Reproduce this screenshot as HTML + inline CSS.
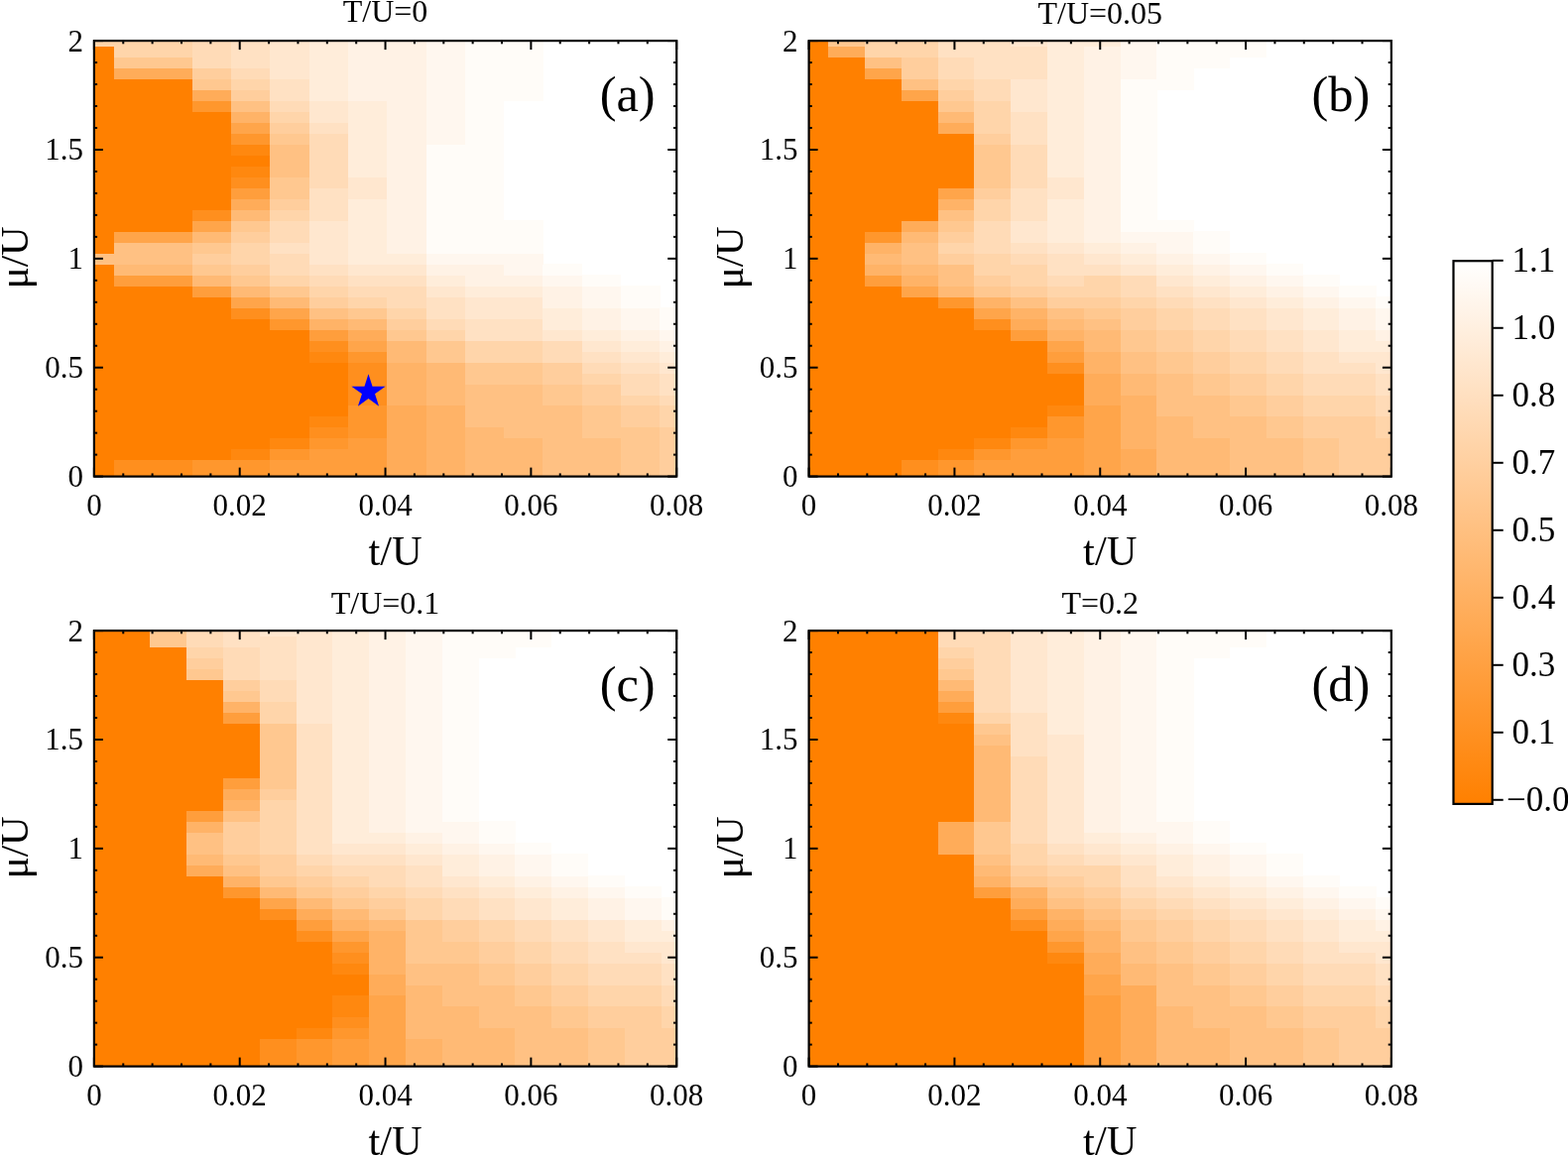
<!DOCTYPE html>
<html><head><meta charset="utf-8"><style>
html,body{margin:0;padding:0;background:#fff;width:1581px;height:1166px;overflow:hidden}
svg text{font-family:'Liberation Serif','Times New Roman',serif;fill:#000}
</style></head><body>
<svg width="1581" height="1166" viewBox="0 0 1581 1166" style="position:absolute;left:0;top:0"><rect width="1581" height="1166" fill="#fff"/><g shape-rendering="crispEdges"><rect x="94.9" y="475.11" width="20.5" height="5.79" fill="#ff8000"/><rect x="115.1" y="475.11" width="78.9" height="5.79" fill="#ff8f1e"/><rect x="193.7" y="475.11" width="78.9" height="5.79" fill="#ff972d"/><rect x="272.3" y="475.11" width="118.2" height="5.79" fill="#ff9e3c"/><rect x="390.2" y="475.11" width="39.6" height="5.79" fill="#ffac59"/><rect x="429.5" y="475.11" width="39.6" height="5.79" fill="#ffb367"/><rect x="468.8" y="475.11" width="78.9" height="5.79" fill="#ffba75"/><rect x="547.4" y="475.11" width="78.9" height="5.79" fill="#ffc183"/><rect x="626.0" y="475.11" width="39.6" height="5.79" fill="#ffc890"/><rect x="665.3" y="475.11" width="17.2" height="5.79" fill="#ffce9d"/><rect x="94.9" y="464.12" width="20.5" height="11.29" fill="#ff8000"/><rect x="115.1" y="464.12" width="78.9" height="11.29" fill="#ff8f1e"/><rect x="193.7" y="464.12" width="78.9" height="11.29" fill="#ff972d"/><rect x="272.3" y="464.12" width="118.2" height="11.29" fill="#ff9e3c"/><rect x="390.2" y="464.12" width="39.6" height="11.29" fill="#ffac59"/><rect x="429.5" y="464.12" width="39.6" height="11.29" fill="#ffb367"/><rect x="468.8" y="464.12" width="78.9" height="11.29" fill="#ffba75"/><rect x="547.4" y="464.12" width="78.9" height="11.29" fill="#ffc183"/><rect x="626.0" y="464.12" width="39.6" height="11.29" fill="#ffc890"/><rect x="665.3" y="464.12" width="17.2" height="11.29" fill="#ffce9d"/><rect x="94.9" y="453.13" width="138.4" height="11.29" fill="#ff8000"/><rect x="233.0" y="453.13" width="39.6" height="11.29" fill="#ff880f"/><rect x="272.3" y="453.13" width="39.6" height="11.29" fill="#ff972d"/><rect x="311.6" y="453.13" width="78.9" height="11.29" fill="#ff9e3c"/><rect x="390.2" y="453.13" width="39.6" height="11.29" fill="#ffac59"/><rect x="429.5" y="453.13" width="39.6" height="11.29" fill="#ffb367"/><rect x="468.8" y="453.13" width="78.9" height="11.29" fill="#ffba75"/><rect x="547.4" y="453.13" width="78.9" height="11.29" fill="#ffc183"/><rect x="626.0" y="453.13" width="39.6" height="11.29" fill="#ffc890"/><rect x="665.3" y="453.13" width="17.2" height="11.29" fill="#ffce9d"/><rect x="94.9" y="442.14" width="177.7" height="11.29" fill="#ff8000"/><rect x="272.3" y="442.14" width="39.6" height="11.29" fill="#ff880f"/><rect x="311.6" y="442.14" width="39.6" height="11.29" fill="#ff972d"/><rect x="350.9" y="442.14" width="39.6" height="11.29" fill="#ff9e3c"/><rect x="390.2" y="442.14" width="39.6" height="11.29" fill="#ffac59"/><rect x="429.5" y="442.14" width="39.6" height="11.29" fill="#ffb367"/><rect x="468.8" y="442.14" width="78.9" height="11.29" fill="#ffba75"/><rect x="547.4" y="442.14" width="78.9" height="11.29" fill="#ffc183"/><rect x="626.0" y="442.14" width="39.6" height="11.29" fill="#ffc890"/><rect x="665.3" y="442.14" width="17.2" height="11.29" fill="#ffce9d"/><rect x="94.9" y="431.16" width="217.0" height="11.29" fill="#ff8000"/><rect x="311.6" y="431.16" width="39.6" height="11.29" fill="#ff8f1e"/><rect x="350.9" y="431.16" width="39.6" height="11.29" fill="#ff972d"/><rect x="390.2" y="431.16" width="39.6" height="11.29" fill="#ffac59"/><rect x="429.5" y="431.16" width="39.6" height="11.29" fill="#ffb367"/><rect x="468.8" y="431.16" width="39.6" height="11.29" fill="#ffba75"/><rect x="508.1" y="431.16" width="78.9" height="11.29" fill="#ffc183"/><rect x="586.7" y="431.16" width="78.9" height="11.29" fill="#ffc890"/><rect x="665.3" y="431.16" width="17.2" height="11.29" fill="#ffce9d"/><rect x="94.9" y="420.17" width="217.0" height="11.29" fill="#ff8000"/><rect x="311.6" y="420.17" width="39.6" height="11.29" fill="#ff880f"/><rect x="350.9" y="420.17" width="39.6" height="11.29" fill="#ff972d"/><rect x="390.2" y="420.17" width="39.6" height="11.29" fill="#ffac59"/><rect x="429.5" y="420.17" width="39.6" height="11.29" fill="#ffb367"/><rect x="468.8" y="420.17" width="118.2" height="11.29" fill="#ffc183"/><rect x="586.7" y="420.17" width="39.6" height="11.29" fill="#ffc890"/><rect x="626.0" y="420.17" width="39.6" height="11.29" fill="#ffce9d"/><rect x="665.3" y="420.17" width="17.2" height="11.29" fill="#ffd5aa"/><rect x="94.9" y="409.18" width="256.3" height="11.29" fill="#ff8000"/><rect x="350.9" y="409.18" width="39.6" height="11.29" fill="#ff972d"/><rect x="390.2" y="409.18" width="39.6" height="11.29" fill="#ffac59"/><rect x="429.5" y="409.18" width="39.6" height="11.29" fill="#ffb367"/><rect x="468.8" y="409.18" width="118.2" height="11.29" fill="#ffc183"/><rect x="586.7" y="409.18" width="39.6" height="11.29" fill="#ffc890"/><rect x="626.0" y="409.18" width="39.6" height="11.29" fill="#ffce9d"/><rect x="665.3" y="409.18" width="17.2" height="11.29" fill="#ffd5aa"/><rect x="94.9" y="398.19" width="256.3" height="11.29" fill="#ff8000"/><rect x="350.9" y="398.19" width="39.6" height="11.29" fill="#ff8f1e"/><rect x="390.2" y="398.19" width="39.6" height="11.29" fill="#ffb367"/><rect x="429.5" y="398.19" width="39.6" height="11.29" fill="#ffba75"/><rect x="468.8" y="398.19" width="78.9" height="11.29" fill="#ffc183"/><rect x="547.4" y="398.19" width="39.6" height="11.29" fill="#ffc890"/><rect x="586.7" y="398.19" width="39.6" height="11.29" fill="#ffce9d"/><rect x="626.0" y="398.19" width="39.6" height="11.29" fill="#ffd5aa"/><rect x="665.3" y="398.19" width="17.2" height="11.29" fill="#ffdbb7"/><rect x="94.9" y="387.21" width="256.3" height="11.29" fill="#ff8000"/><rect x="350.9" y="387.21" width="39.6" height="11.29" fill="#ff8f1e"/><rect x="390.2" y="387.21" width="39.6" height="11.29" fill="#ffb367"/><rect x="429.5" y="387.21" width="39.6" height="11.29" fill="#ffba75"/><rect x="468.8" y="387.21" width="78.9" height="11.29" fill="#ffc183"/><rect x="547.4" y="387.21" width="39.6" height="11.29" fill="#ffc890"/><rect x="586.7" y="387.21" width="39.6" height="11.29" fill="#ffce9d"/><rect x="626.0" y="387.21" width="39.6" height="11.29" fill="#ffdbb7"/><rect x="665.3" y="387.21" width="17.2" height="11.29" fill="#ffe1c3"/><rect x="94.9" y="376.22" width="256.3" height="11.29" fill="#ff8000"/><rect x="350.9" y="376.22" width="39.6" height="11.29" fill="#ff8f1e"/><rect x="390.2" y="376.22" width="39.6" height="11.29" fill="#ffb367"/><rect x="429.5" y="376.22" width="39.6" height="11.29" fill="#ffba75"/><rect x="468.8" y="376.22" width="78.9" height="11.29" fill="#ffc890"/><rect x="547.4" y="376.22" width="39.6" height="11.29" fill="#ffce9d"/><rect x="586.7" y="376.22" width="39.6" height="11.29" fill="#ffd5aa"/><rect x="626.0" y="376.22" width="39.6" height="11.29" fill="#ffdbb7"/><rect x="665.3" y="376.22" width="17.2" height="11.29" fill="#ffe1c3"/><rect x="94.9" y="365.23" width="256.3" height="11.29" fill="#ff8000"/><rect x="350.9" y="365.23" width="39.6" height="11.29" fill="#ff8f1e"/><rect x="390.2" y="365.23" width="39.6" height="11.29" fill="#ffb367"/><rect x="429.5" y="365.23" width="39.6" height="11.29" fill="#ffba75"/><rect x="468.8" y="365.23" width="78.9" height="11.29" fill="#ffc890"/><rect x="547.4" y="365.23" width="39.6" height="11.29" fill="#ffce9d"/><rect x="586.7" y="365.23" width="39.6" height="11.29" fill="#ffdbb7"/><rect x="626.0" y="365.23" width="39.6" height="11.29" fill="#ffe1c3"/><rect x="665.3" y="365.23" width="17.2" height="11.29" fill="#ffe7cf"/><rect x="94.9" y="354.24" width="217.0" height="11.29" fill="#ff8000"/><rect x="311.6" y="354.24" width="39.6" height="11.29" fill="#ff880f"/><rect x="350.9" y="354.24" width="39.6" height="11.29" fill="#ff972d"/><rect x="390.2" y="354.24" width="39.6" height="11.29" fill="#ffba75"/><rect x="429.5" y="354.24" width="39.6" height="11.29" fill="#ffc890"/><rect x="468.8" y="354.24" width="78.9" height="11.29" fill="#ffd5aa"/><rect x="547.4" y="354.24" width="39.6" height="11.29" fill="#ffdbb7"/><rect x="586.7" y="354.24" width="39.6" height="11.29" fill="#ffe1c3"/><rect x="626.0" y="354.24" width="39.6" height="11.29" fill="#ffe7cf"/><rect x="665.3" y="354.24" width="17.2" height="11.29" fill="#ffedda"/><rect x="94.9" y="343.26" width="217.0" height="11.29" fill="#ff8000"/><rect x="311.6" y="343.26" width="39.6" height="11.29" fill="#ff8f1e"/><rect x="350.9" y="343.26" width="39.6" height="11.29" fill="#ffa54a"/><rect x="390.2" y="343.26" width="39.6" height="11.29" fill="#ffba75"/><rect x="429.5" y="343.26" width="39.6" height="11.29" fill="#ffc890"/><rect x="468.8" y="343.26" width="78.9" height="11.29" fill="#ffd5aa"/><rect x="547.4" y="343.26" width="39.6" height="11.29" fill="#ffdbb7"/><rect x="586.7" y="343.26" width="39.6" height="11.29" fill="#ffe7cf"/><rect x="626.0" y="343.26" width="39.6" height="11.29" fill="#ffedda"/><rect x="665.3" y="343.26" width="17.2" height="11.29" fill="#fff2e5"/><rect x="94.9" y="332.27" width="217.0" height="11.29" fill="#ff8000"/><rect x="311.6" y="332.27" width="39.6" height="11.29" fill="#ff9e3c"/><rect x="350.9" y="332.27" width="39.6" height="11.29" fill="#ffac59"/><rect x="390.2" y="332.27" width="39.6" height="11.29" fill="#ffc890"/><rect x="429.5" y="332.27" width="39.6" height="11.29" fill="#ffd5aa"/><rect x="468.8" y="332.27" width="78.9" height="11.29" fill="#ffe1c3"/><rect x="547.4" y="332.27" width="39.6" height="11.29" fill="#ffe7cf"/><rect x="586.7" y="332.27" width="39.6" height="11.29" fill="#ffedda"/><rect x="626.0" y="332.27" width="39.6" height="11.29" fill="#fff2e5"/><rect x="665.3" y="332.27" width="17.2" height="11.29" fill="#fff7ef"/><rect x="94.9" y="321.28" width="177.7" height="11.29" fill="#ff8000"/><rect x="272.3" y="321.28" width="39.6" height="11.29" fill="#ff972d"/><rect x="311.6" y="321.28" width="39.6" height="11.29" fill="#ffb367"/><rect x="350.9" y="321.28" width="39.6" height="11.29" fill="#ffba75"/><rect x="390.2" y="321.28" width="39.6" height="11.29" fill="#ffce9d"/><rect x="429.5" y="321.28" width="39.6" height="11.29" fill="#ffdbb7"/><rect x="468.8" y="321.28" width="78.9" height="11.29" fill="#ffe1c3"/><rect x="547.4" y="321.28" width="39.6" height="11.29" fill="#ffedda"/><rect x="586.7" y="321.28" width="39.6" height="11.29" fill="#fff2e5"/><rect x="626.0" y="321.28" width="39.6" height="11.29" fill="#fff7ef"/><rect x="665.3" y="321.28" width="17.2" height="11.29" fill="#fffcf8"/><rect x="94.9" y="310.29" width="138.4" height="11.29" fill="#ff8000"/><rect x="233.0" y="310.29" width="39.6" height="11.29" fill="#ff8f1e"/><rect x="272.3" y="310.29" width="39.6" height="11.29" fill="#ffa54a"/><rect x="311.6" y="310.29" width="39.6" height="11.29" fill="#ffc183"/><rect x="350.9" y="310.29" width="39.6" height="11.29" fill="#ffc890"/><rect x="390.2" y="310.29" width="39.6" height="11.29" fill="#ffd5aa"/><rect x="429.5" y="310.29" width="39.6" height="11.29" fill="#ffe1c3"/><rect x="468.8" y="310.29" width="78.9" height="11.29" fill="#ffe7cf"/><rect x="547.4" y="310.29" width="39.6" height="11.29" fill="#ffedda"/><rect x="586.7" y="310.29" width="39.6" height="11.29" fill="#fff2e5"/><rect x="626.0" y="310.29" width="39.6" height="11.29" fill="#fff7ef"/><rect x="665.3" y="310.29" width="17.2" height="11.29" fill="#fffcf8"/><rect x="94.9" y="299.31" width="138.4" height="11.29" fill="#ff8000"/><rect x="233.0" y="299.31" width="39.6" height="11.29" fill="#ffa54a"/><rect x="272.3" y="299.31" width="39.6" height="11.29" fill="#ffba75"/><rect x="311.6" y="299.31" width="39.6" height="11.29" fill="#ffce9d"/><rect x="350.9" y="299.31" width="39.6" height="11.29" fill="#ffd5aa"/><rect x="390.2" y="299.31" width="39.6" height="11.29" fill="#ffdbb7"/><rect x="429.5" y="299.31" width="39.6" height="11.29" fill="#ffe1c3"/><rect x="468.8" y="299.31" width="78.9" height="11.29" fill="#ffe7cf"/><rect x="547.4" y="299.31" width="39.6" height="11.29" fill="#fff2e5"/><rect x="586.7" y="299.31" width="39.6" height="11.29" fill="#fff7ef"/><rect x="626.0" y="299.31" width="39.6" height="11.29" fill="#fffcf8"/><rect x="94.9" y="288.32" width="99.1" height="11.29" fill="#ff8000"/><rect x="193.7" y="288.32" width="39.6" height="11.29" fill="#ff9e3c"/><rect x="233.0" y="288.32" width="39.6" height="11.29" fill="#ffba75"/><rect x="272.3" y="288.32" width="39.6" height="11.29" fill="#ffc890"/><rect x="311.6" y="288.32" width="39.6" height="11.29" fill="#ffd5aa"/><rect x="350.9" y="288.32" width="78.9" height="11.29" fill="#ffdbb7"/><rect x="429.5" y="288.32" width="39.6" height="11.29" fill="#ffe7cf"/><rect x="468.8" y="288.32" width="78.9" height="11.29" fill="#ffedda"/><rect x="547.4" y="288.32" width="39.6" height="11.29" fill="#fff2e5"/><rect x="586.7" y="288.32" width="39.6" height="11.29" fill="#fff7ef"/><rect x="626.0" y="288.32" width="39.6" height="11.29" fill="#fffcf8"/><rect x="94.9" y="277.33" width="20.5" height="11.29" fill="#ff8000"/><rect x="115.1" y="277.33" width="78.9" height="11.29" fill="#ff9e3c"/><rect x="193.7" y="277.33" width="39.6" height="11.29" fill="#ffba75"/><rect x="233.0" y="277.33" width="39.6" height="11.29" fill="#ffc890"/><rect x="272.3" y="277.33" width="39.6" height="11.29" fill="#ffd5aa"/><rect x="311.6" y="277.33" width="39.6" height="11.29" fill="#ffdbb7"/><rect x="350.9" y="277.33" width="78.9" height="11.29" fill="#ffe1c3"/><rect x="429.5" y="277.33" width="39.6" height="11.29" fill="#ffedda"/><rect x="468.8" y="277.33" width="78.9" height="11.29" fill="#fff2e5"/><rect x="547.4" y="277.33" width="39.6" height="11.29" fill="#fff7ef"/><rect x="586.7" y="277.33" width="39.6" height="11.29" fill="#fffcf8"/><rect x="94.9" y="266.34" width="20.5" height="11.29" fill="#ff8000"/><rect x="115.1" y="266.34" width="78.9" height="11.29" fill="#ffba75"/><rect x="193.7" y="266.34" width="39.6" height="11.29" fill="#ffc890"/><rect x="233.0" y="266.34" width="39.6" height="11.29" fill="#ffce9d"/><rect x="272.3" y="266.34" width="39.6" height="11.29" fill="#ffdbb7"/><rect x="311.6" y="266.34" width="39.6" height="11.29" fill="#ffe1c3"/><rect x="350.9" y="266.34" width="78.9" height="11.29" fill="#ffe7cf"/><rect x="429.5" y="266.34" width="78.9" height="11.29" fill="#fff2e5"/><rect x="508.1" y="266.34" width="39.6" height="11.29" fill="#fff7ef"/><rect x="547.4" y="266.34" width="39.6" height="11.29" fill="#fffcf8"/><rect x="94.9" y="255.36" width="99.1" height="11.29" fill="#ffc183"/><rect x="193.7" y="255.36" width="39.6" height="11.29" fill="#ffce9d"/><rect x="233.0" y="255.36" width="39.6" height="11.29" fill="#ffd5aa"/><rect x="272.3" y="255.36" width="39.6" height="11.29" fill="#ffdbb7"/><rect x="311.6" y="255.36" width="39.6" height="11.29" fill="#ffe7cf"/><rect x="350.9" y="255.36" width="78.9" height="11.29" fill="#ffedda"/><rect x="429.5" y="255.36" width="118.2" height="11.29" fill="#fff7ef"/><rect x="94.9" y="244.37" width="20.5" height="11.29" fill="#ff8000"/><rect x="115.1" y="244.37" width="78.9" height="11.29" fill="#ffc183"/><rect x="193.7" y="244.37" width="39.6" height="11.29" fill="#ffc890"/><rect x="233.0" y="244.37" width="39.6" height="11.29" fill="#ffd5aa"/><rect x="272.3" y="244.37" width="39.6" height="11.29" fill="#ffe1c3"/><rect x="311.6" y="244.37" width="39.6" height="11.29" fill="#ffe7cf"/><rect x="350.9" y="244.37" width="39.6" height="11.29" fill="#ffedda"/><rect x="390.2" y="244.37" width="39.6" height="11.29" fill="#fff2e5"/><rect x="429.5" y="244.37" width="118.2" height="11.29" fill="#fffcf8"/><rect x="94.9" y="233.38" width="20.5" height="11.29" fill="#ff8000"/><rect x="115.1" y="233.38" width="78.9" height="11.29" fill="#ffa54a"/><rect x="193.7" y="233.38" width="39.6" height="11.29" fill="#ffba75"/><rect x="233.0" y="233.38" width="39.6" height="11.29" fill="#ffce9d"/><rect x="272.3" y="233.38" width="39.6" height="11.29" fill="#ffdbb7"/><rect x="311.6" y="233.38" width="39.6" height="11.29" fill="#ffe7cf"/><rect x="350.9" y="233.38" width="39.6" height="11.29" fill="#ffedda"/><rect x="390.2" y="233.38" width="39.6" height="11.29" fill="#fff2e5"/><rect x="429.5" y="233.38" width="118.2" height="11.29" fill="#fffcf8"/><rect x="94.9" y="222.39" width="99.1" height="11.29" fill="#ff8000"/><rect x="193.7" y="222.39" width="39.6" height="11.29" fill="#ffa54a"/><rect x="233.0" y="222.39" width="39.6" height="11.29" fill="#ffc890"/><rect x="272.3" y="222.39" width="39.6" height="11.29" fill="#ffdbb7"/><rect x="311.6" y="222.39" width="39.6" height="11.29" fill="#ffe7cf"/><rect x="350.9" y="222.39" width="39.6" height="11.29" fill="#ffedda"/><rect x="390.2" y="222.39" width="39.6" height="11.29" fill="#fff2e5"/><rect x="429.5" y="222.39" width="118.2" height="11.29" fill="#fffcf8"/><rect x="94.9" y="211.41" width="99.1" height="11.29" fill="#ff8000"/><rect x="193.7" y="211.41" width="39.6" height="11.29" fill="#ff8f1e"/><rect x="233.0" y="211.41" width="39.6" height="11.29" fill="#ffba75"/><rect x="272.3" y="211.41" width="39.6" height="11.29" fill="#ffd5aa"/><rect x="311.6" y="211.41" width="39.6" height="11.29" fill="#ffe1c3"/><rect x="350.9" y="211.41" width="39.6" height="11.29" fill="#ffedda"/><rect x="390.2" y="211.41" width="39.6" height="11.29" fill="#fff2e5"/><rect x="429.5" y="211.41" width="78.9" height="11.29" fill="#fffcf8"/><rect x="94.9" y="200.42" width="138.4" height="11.29" fill="#ff8000"/><rect x="233.0" y="200.42" width="39.6" height="11.29" fill="#ffac59"/><rect x="272.3" y="200.42" width="39.6" height="11.29" fill="#ffce9d"/><rect x="311.6" y="200.42" width="39.6" height="11.29" fill="#ffe1c3"/><rect x="350.9" y="200.42" width="39.6" height="11.29" fill="#ffedda"/><rect x="390.2" y="200.42" width="39.6" height="11.29" fill="#fff2e5"/><rect x="429.5" y="200.42" width="78.9" height="11.29" fill="#fffcf8"/><rect x="94.9" y="189.43" width="138.4" height="11.29" fill="#ff8000"/><rect x="233.0" y="189.43" width="39.6" height="11.29" fill="#ff9e3c"/><rect x="272.3" y="189.43" width="39.6" height="11.29" fill="#ffc890"/><rect x="311.6" y="189.43" width="39.6" height="11.29" fill="#ffe1c3"/><rect x="350.9" y="189.43" width="39.6" height="11.29" fill="#ffe7cf"/><rect x="390.2" y="189.43" width="39.6" height="11.29" fill="#fff2e5"/><rect x="429.5" y="189.43" width="78.9" height="11.29" fill="#fffcf8"/><rect x="94.9" y="178.44" width="138.4" height="11.29" fill="#ff8000"/><rect x="233.0" y="178.44" width="39.6" height="11.29" fill="#ff8f1e"/><rect x="272.3" y="178.44" width="39.6" height="11.29" fill="#ffc890"/><rect x="311.6" y="178.44" width="39.6" height="11.29" fill="#ffdbb7"/><rect x="350.9" y="178.44" width="39.6" height="11.29" fill="#ffe7cf"/><rect x="390.2" y="178.44" width="39.6" height="11.29" fill="#fff2e5"/><rect x="429.5" y="178.44" width="78.9" height="11.29" fill="#fffcf8"/><rect x="94.9" y="167.46" width="138.4" height="11.29" fill="#ff8000"/><rect x="233.0" y="167.46" width="39.6" height="11.29" fill="#ff880f"/><rect x="272.3" y="167.46" width="39.6" height="11.29" fill="#ffc183"/><rect x="311.6" y="167.46" width="39.6" height="11.29" fill="#ffdbb7"/><rect x="350.9" y="167.46" width="39.6" height="11.29" fill="#ffedda"/><rect x="390.2" y="167.46" width="39.6" height="11.29" fill="#fff2e5"/><rect x="429.5" y="167.46" width="78.9" height="11.29" fill="#fffcf8"/><rect x="94.9" y="156.47" width="177.7" height="11.29" fill="#ff8000"/><rect x="272.3" y="156.47" width="39.6" height="11.29" fill="#ffc183"/><rect x="311.6" y="156.47" width="39.6" height="11.29" fill="#ffdbb7"/><rect x="350.9" y="156.47" width="39.6" height="11.29" fill="#ffedda"/><rect x="390.2" y="156.47" width="39.6" height="11.29" fill="#fff2e5"/><rect x="429.5" y="156.47" width="78.9" height="11.29" fill="#fffcf8"/><rect x="94.9" y="145.48" width="138.4" height="11.29" fill="#ff8000"/><rect x="233.0" y="145.48" width="39.6" height="11.29" fill="#ff880f"/><rect x="272.3" y="145.48" width="39.6" height="11.29" fill="#ffc183"/><rect x="311.6" y="145.48" width="39.6" height="11.29" fill="#ffdbb7"/><rect x="350.9" y="145.48" width="39.6" height="11.29" fill="#ffedda"/><rect x="390.2" y="145.48" width="39.6" height="11.29" fill="#fff2e5"/><rect x="429.5" y="145.48" width="78.9" height="11.29" fill="#fffcf8"/><rect x="94.9" y="134.49" width="138.4" height="11.29" fill="#ff8000"/><rect x="233.0" y="134.49" width="39.6" height="11.29" fill="#ff972d"/><rect x="272.3" y="134.49" width="39.6" height="11.29" fill="#ffc890"/><rect x="311.6" y="134.49" width="39.6" height="11.29" fill="#ffdbb7"/><rect x="350.9" y="134.49" width="39.6" height="11.29" fill="#ffedda"/><rect x="390.2" y="134.49" width="39.6" height="11.29" fill="#fff2e5"/><rect x="429.5" y="134.49" width="39.6" height="11.29" fill="#fff7ef"/><rect x="468.8" y="134.49" width="39.6" height="11.29" fill="#fffcf8"/><rect x="94.9" y="123.51" width="138.4" height="11.29" fill="#ff8000"/><rect x="233.0" y="123.51" width="39.6" height="11.29" fill="#ffa54a"/><rect x="272.3" y="123.51" width="39.6" height="11.29" fill="#ffce9d"/><rect x="311.6" y="123.51" width="39.6" height="11.29" fill="#ffe1c3"/><rect x="350.9" y="123.51" width="39.6" height="11.29" fill="#ffedda"/><rect x="390.2" y="123.51" width="39.6" height="11.29" fill="#fff2e5"/><rect x="429.5" y="123.51" width="39.6" height="11.29" fill="#fff7ef"/><rect x="468.8" y="123.51" width="39.6" height="11.29" fill="#fffcf8"/><rect x="94.9" y="112.52" width="138.4" height="11.29" fill="#ff8000"/><rect x="233.0" y="112.52" width="39.6" height="11.29" fill="#ffb367"/><rect x="272.3" y="112.52" width="39.6" height="11.29" fill="#ffd5aa"/><rect x="311.6" y="112.52" width="39.6" height="11.29" fill="#ffe7cf"/><rect x="350.9" y="112.52" width="39.6" height="11.29" fill="#ffedda"/><rect x="390.2" y="112.52" width="39.6" height="11.29" fill="#fff2e5"/><rect x="429.5" y="112.52" width="39.6" height="11.29" fill="#fff7ef"/><rect x="468.8" y="112.52" width="39.6" height="11.29" fill="#fffcf8"/><rect x="94.9" y="101.53" width="99.1" height="11.29" fill="#ff8000"/><rect x="193.7" y="101.53" width="39.6" height="11.29" fill="#ff972d"/><rect x="233.0" y="101.53" width="39.6" height="11.29" fill="#ffc183"/><rect x="272.3" y="101.53" width="39.6" height="11.29" fill="#ffdbb7"/><rect x="311.6" y="101.53" width="39.6" height="11.29" fill="#ffe7cf"/><rect x="350.9" y="101.53" width="39.6" height="11.29" fill="#ffedda"/><rect x="390.2" y="101.53" width="39.6" height="11.29" fill="#fff2e5"/><rect x="429.5" y="101.53" width="39.6" height="11.29" fill="#fff7ef"/><rect x="468.8" y="101.53" width="39.6" height="11.29" fill="#fffcf8"/><rect x="94.9" y="90.54" width="99.1" height="11.29" fill="#ff8000"/><rect x="193.7" y="90.54" width="39.6" height="11.29" fill="#ffac59"/><rect x="233.0" y="90.54" width="39.6" height="11.29" fill="#ffce9d"/><rect x="272.3" y="90.54" width="39.6" height="11.29" fill="#ffe1c3"/><rect x="311.6" y="90.54" width="39.6" height="11.29" fill="#ffedda"/><rect x="350.9" y="90.54" width="78.9" height="11.29" fill="#fff2e5"/><rect x="429.5" y="90.54" width="39.6" height="11.29" fill="#fff7ef"/><rect x="468.8" y="90.54" width="78.9" height="11.29" fill="#fffcf8"/><rect x="94.9" y="79.56" width="99.1" height="11.29" fill="#ff8000"/><rect x="193.7" y="79.56" width="39.6" height="11.29" fill="#ffc890"/><rect x="233.0" y="79.56" width="39.6" height="11.29" fill="#ffd5aa"/><rect x="272.3" y="79.56" width="39.6" height="11.29" fill="#ffe1c3"/><rect x="311.6" y="79.56" width="39.6" height="11.29" fill="#ffedda"/><rect x="350.9" y="79.56" width="78.9" height="11.29" fill="#fff2e5"/><rect x="429.5" y="79.56" width="39.6" height="11.29" fill="#fff7ef"/><rect x="468.8" y="79.56" width="78.9" height="11.29" fill="#fffcf8"/><rect x="94.9" y="68.57" width="20.5" height="11.29" fill="#ff8000"/><rect x="115.1" y="68.57" width="78.9" height="11.29" fill="#ffac59"/><rect x="193.7" y="68.57" width="39.6" height="11.29" fill="#ffce9d"/><rect x="233.0" y="68.57" width="39.6" height="11.29" fill="#ffdbb7"/><rect x="272.3" y="68.57" width="39.6" height="11.29" fill="#ffe7cf"/><rect x="311.6" y="68.57" width="39.6" height="11.29" fill="#ffedda"/><rect x="350.9" y="68.57" width="78.9" height="11.29" fill="#fff2e5"/><rect x="429.5" y="68.57" width="39.6" height="11.29" fill="#fff7ef"/><rect x="468.8" y="68.57" width="78.9" height="11.29" fill="#fffcf8"/><rect x="94.9" y="57.58" width="20.5" height="11.29" fill="#ff8000"/><rect x="115.1" y="57.58" width="78.9" height="11.29" fill="#ffc890"/><rect x="193.7" y="57.58" width="39.6" height="11.29" fill="#ffdbb7"/><rect x="233.0" y="57.58" width="39.6" height="11.29" fill="#ffe1c3"/><rect x="272.3" y="57.58" width="39.6" height="11.29" fill="#ffe7cf"/><rect x="311.6" y="57.58" width="39.6" height="11.29" fill="#ffedda"/><rect x="350.9" y="57.58" width="78.9" height="11.29" fill="#fff2e5"/><rect x="429.5" y="57.58" width="39.6" height="11.29" fill="#fff7ef"/><rect x="468.8" y="57.58" width="78.9" height="11.29" fill="#fffcf8"/><rect x="94.9" y="46.59" width="20.5" height="11.29" fill="#ff8000"/><rect x="115.1" y="46.59" width="78.9" height="11.29" fill="#ffd5aa"/><rect x="193.7" y="46.59" width="39.6" height="11.29" fill="#ffdbb7"/><rect x="233.0" y="46.59" width="39.6" height="11.29" fill="#ffe1c3"/><rect x="272.3" y="46.59" width="39.6" height="11.29" fill="#ffe7cf"/><rect x="311.6" y="46.59" width="39.6" height="11.29" fill="#ffedda"/><rect x="350.9" y="46.59" width="78.9" height="11.29" fill="#fff2e5"/><rect x="429.5" y="46.59" width="39.6" height="11.29" fill="#fff7ef"/><rect x="468.8" y="46.59" width="78.9" height="11.29" fill="#fffcf8"/><rect x="94.9" y="41.10" width="99.1" height="5.79" fill="#ffd5aa"/><rect x="193.7" y="41.10" width="39.6" height="5.79" fill="#ffdbb7"/><rect x="233.0" y="41.10" width="39.6" height="5.79" fill="#ffe1c3"/><rect x="272.3" y="41.10" width="39.6" height="5.79" fill="#ffe7cf"/><rect x="311.6" y="41.10" width="39.6" height="5.79" fill="#ffedda"/><rect x="350.9" y="41.10" width="78.9" height="5.79" fill="#fff2e5"/><rect x="429.5" y="41.10" width="39.6" height="5.79" fill="#fff7ef"/><rect x="468.8" y="41.10" width="78.9" height="5.79" fill="#fffcf8"/></g><g stroke="#000"><line x1="94.90" y1="480.6" x2="94.90" y2="471.6" stroke-width="2"/><line x1="94.90" y1="41.1" x2="94.90" y2="50.1" stroke-width="2"/><line x1="124.27" y1="480.6" x2="124.27" y2="477.40000000000003" stroke-width="2"/><line x1="124.27" y1="41.1" x2="124.27" y2="44.300000000000004" stroke-width="2"/><line x1="153.63" y1="480.6" x2="153.63" y2="477.40000000000003" stroke-width="2"/><line x1="153.63" y1="41.1" x2="153.63" y2="44.300000000000004" stroke-width="2"/><line x1="183.00" y1="480.6" x2="183.00" y2="477.40000000000003" stroke-width="2"/><line x1="183.00" y1="41.1" x2="183.00" y2="44.300000000000004" stroke-width="2"/><line x1="212.36" y1="480.6" x2="212.36" y2="477.40000000000003" stroke-width="2"/><line x1="212.36" y1="41.1" x2="212.36" y2="44.300000000000004" stroke-width="2"/><line x1="241.72" y1="480.6" x2="241.72" y2="471.6" stroke-width="2"/><line x1="241.72" y1="41.1" x2="241.72" y2="50.1" stroke-width="2"/><line x1="271.09" y1="480.6" x2="271.09" y2="477.40000000000003" stroke-width="2"/><line x1="271.09" y1="41.1" x2="271.09" y2="44.300000000000004" stroke-width="2"/><line x1="300.45" y1="480.6" x2="300.45" y2="477.40000000000003" stroke-width="2"/><line x1="300.45" y1="41.1" x2="300.45" y2="44.300000000000004" stroke-width="2"/><line x1="329.82" y1="480.6" x2="329.82" y2="477.40000000000003" stroke-width="2"/><line x1="329.82" y1="41.1" x2="329.82" y2="44.300000000000004" stroke-width="2"/><line x1="359.18" y1="480.6" x2="359.18" y2="477.40000000000003" stroke-width="2"/><line x1="359.18" y1="41.1" x2="359.18" y2="44.300000000000004" stroke-width="2"/><line x1="388.55" y1="480.6" x2="388.55" y2="471.6" stroke-width="2"/><line x1="388.55" y1="41.1" x2="388.55" y2="50.1" stroke-width="2"/><line x1="417.91" y1="480.6" x2="417.91" y2="477.40000000000003" stroke-width="2"/><line x1="417.91" y1="41.1" x2="417.91" y2="44.300000000000004" stroke-width="2"/><line x1="447.28" y1="480.6" x2="447.28" y2="477.40000000000003" stroke-width="2"/><line x1="447.28" y1="41.1" x2="447.28" y2="44.300000000000004" stroke-width="2"/><line x1="476.64" y1="480.6" x2="476.64" y2="477.40000000000003" stroke-width="2"/><line x1="476.64" y1="41.1" x2="476.64" y2="44.300000000000004" stroke-width="2"/><line x1="506.01" y1="480.6" x2="506.01" y2="477.40000000000003" stroke-width="2"/><line x1="506.01" y1="41.1" x2="506.01" y2="44.300000000000004" stroke-width="2"/><line x1="535.38" y1="480.6" x2="535.38" y2="471.6" stroke-width="2"/><line x1="535.38" y1="41.1" x2="535.38" y2="50.1" stroke-width="2"/><line x1="564.74" y1="480.6" x2="564.74" y2="477.40000000000003" stroke-width="2"/><line x1="564.74" y1="41.1" x2="564.74" y2="44.300000000000004" stroke-width="2"/><line x1="594.10" y1="480.6" x2="594.10" y2="477.40000000000003" stroke-width="2"/><line x1="594.10" y1="41.1" x2="594.10" y2="44.300000000000004" stroke-width="2"/><line x1="623.47" y1="480.6" x2="623.47" y2="477.40000000000003" stroke-width="2"/><line x1="623.47" y1="41.1" x2="623.47" y2="44.300000000000004" stroke-width="2"/><line x1="652.83" y1="480.6" x2="652.83" y2="477.40000000000003" stroke-width="2"/><line x1="652.83" y1="41.1" x2="652.83" y2="44.300000000000004" stroke-width="2"/><line x1="682.20" y1="480.6" x2="682.20" y2="471.6" stroke-width="2"/><line x1="682.20" y1="41.1" x2="682.20" y2="50.1" stroke-width="2"/><line x1="94.9" y1="480.60" x2="103.9" y2="480.60" stroke-width="2"/><line x1="682.1999999999999" y1="480.60" x2="673.1999999999999" y2="480.60" stroke-width="2"/><line x1="94.9" y1="458.62" x2="98.10000000000001" y2="458.62" stroke-width="2"/><line x1="682.1999999999999" y1="458.62" x2="678.9999999999999" y2="458.62" stroke-width="2"/><line x1="94.9" y1="436.65" x2="98.10000000000001" y2="436.65" stroke-width="2"/><line x1="682.1999999999999" y1="436.65" x2="678.9999999999999" y2="436.65" stroke-width="2"/><line x1="94.9" y1="414.68" x2="98.10000000000001" y2="414.68" stroke-width="2"/><line x1="682.1999999999999" y1="414.68" x2="678.9999999999999" y2="414.68" stroke-width="2"/><line x1="94.9" y1="392.70" x2="98.10000000000001" y2="392.70" stroke-width="2"/><line x1="682.1999999999999" y1="392.70" x2="678.9999999999999" y2="392.70" stroke-width="2"/><line x1="94.9" y1="370.73" x2="103.9" y2="370.73" stroke-width="2"/><line x1="682.1999999999999" y1="370.73" x2="673.1999999999999" y2="370.73" stroke-width="2"/><line x1="94.9" y1="348.75" x2="98.10000000000001" y2="348.75" stroke-width="2"/><line x1="682.1999999999999" y1="348.75" x2="678.9999999999999" y2="348.75" stroke-width="2"/><line x1="94.9" y1="326.78" x2="98.10000000000001" y2="326.78" stroke-width="2"/><line x1="682.1999999999999" y1="326.78" x2="678.9999999999999" y2="326.78" stroke-width="2"/><line x1="94.9" y1="304.80" x2="98.10000000000001" y2="304.80" stroke-width="2"/><line x1="682.1999999999999" y1="304.80" x2="678.9999999999999" y2="304.80" stroke-width="2"/><line x1="94.9" y1="282.83" x2="98.10000000000001" y2="282.83" stroke-width="2"/><line x1="682.1999999999999" y1="282.83" x2="678.9999999999999" y2="282.83" stroke-width="2"/><line x1="94.9" y1="260.85" x2="103.9" y2="260.85" stroke-width="2"/><line x1="682.1999999999999" y1="260.85" x2="673.1999999999999" y2="260.85" stroke-width="2"/><line x1="94.9" y1="238.88" x2="98.10000000000001" y2="238.88" stroke-width="2"/><line x1="682.1999999999999" y1="238.88" x2="678.9999999999999" y2="238.88" stroke-width="2"/><line x1="94.9" y1="216.90" x2="98.10000000000001" y2="216.90" stroke-width="2"/><line x1="682.1999999999999" y1="216.90" x2="678.9999999999999" y2="216.90" stroke-width="2"/><line x1="94.9" y1="194.93" x2="98.10000000000001" y2="194.93" stroke-width="2"/><line x1="682.1999999999999" y1="194.93" x2="678.9999999999999" y2="194.93" stroke-width="2"/><line x1="94.9" y1="172.95" x2="98.10000000000001" y2="172.95" stroke-width="2"/><line x1="682.1999999999999" y1="172.95" x2="678.9999999999999" y2="172.95" stroke-width="2"/><line x1="94.9" y1="150.98" x2="103.9" y2="150.98" stroke-width="2"/><line x1="682.1999999999999" y1="150.98" x2="673.1999999999999" y2="150.98" stroke-width="2"/><line x1="94.9" y1="129.00" x2="98.10000000000001" y2="129.00" stroke-width="2"/><line x1="682.1999999999999" y1="129.00" x2="678.9999999999999" y2="129.00" stroke-width="2"/><line x1="94.9" y1="107.03" x2="98.10000000000001" y2="107.03" stroke-width="2"/><line x1="682.1999999999999" y1="107.03" x2="678.9999999999999" y2="107.03" stroke-width="2"/><line x1="94.9" y1="85.05" x2="98.10000000000001" y2="85.05" stroke-width="2"/><line x1="682.1999999999999" y1="85.05" x2="678.9999999999999" y2="85.05" stroke-width="2"/><line x1="94.9" y1="63.08" x2="98.10000000000001" y2="63.08" stroke-width="2"/><line x1="682.1999999999999" y1="63.08" x2="678.9999999999999" y2="63.08" stroke-width="2"/><line x1="94.9" y1="41.10" x2="103.9" y2="41.10" stroke-width="2"/><line x1="682.1999999999999" y1="41.10" x2="673.1999999999999" y2="41.10" stroke-width="2"/></g><rect x="94.9" y="41.1" width="587.3" height="439.5" fill="none" stroke="#000" stroke-width="2.2"/><text x="94.90" y="519.6" font-size="31" text-anchor="middle">0</text><text x="241.72" y="519.6" font-size="31" text-anchor="middle">0.02</text><text x="388.55" y="519.6" font-size="31" text-anchor="middle">0.04</text><text x="535.38" y="519.6" font-size="31" text-anchor="middle">0.06</text><text x="682.20" y="519.6" font-size="31" text-anchor="middle">0.08</text><text x="83.9" y="491.10" font-size="31" text-anchor="end">0</text><text x="83.9" y="381.23" font-size="31" text-anchor="end">0.5</text><text x="83.9" y="271.35" font-size="31" text-anchor="end">1</text><text x="83.9" y="161.48" font-size="31" text-anchor="end">1.5</text><text x="83.9" y="51.60" font-size="31" text-anchor="end">2</text><text x="398.54999999999995" y="570.2" font-size="42.5" text-anchor="middle">t/U</text><text transform="translate(27.900000000000006,259.85) rotate(-90)" font-size="41" text-anchor="middle">μ/U</text><text x="388.54999999999995" y="22.3" font-size="32" text-anchor="middle">T/U=0</text><text x="660.6999999999999" y="111.6" font-size="50.5" text-anchor="end">(a)</text><g shape-rendering="crispEdges"><rect x="815.6" y="475.11" width="93.5" height="5.79" fill="#ff8000"/><rect x="908.8" y="475.11" width="37.1" height="5.79" fill="#ff8f1e"/><rect x="945.6" y="475.11" width="37.1" height="5.79" fill="#ff972d"/><rect x="982.4" y="475.11" width="110.7" height="5.79" fill="#ff9e3c"/><rect x="1092.8" y="475.11" width="37.1" height="5.79" fill="#ffa54a"/><rect x="1129.6" y="475.11" width="37.1" height="5.79" fill="#ffac59"/><rect x="1166.4" y="475.11" width="73.9" height="5.79" fill="#ffba75"/><rect x="1240.0" y="475.11" width="73.9" height="5.79" fill="#ffc183"/><rect x="1313.6" y="475.11" width="37.1" height="5.79" fill="#ffc890"/><rect x="1350.4" y="475.11" width="52.8" height="5.79" fill="#ffce9d"/><rect x="815.6" y="464.12" width="93.5" height="11.29" fill="#ff8000"/><rect x="908.8" y="464.12" width="37.1" height="11.29" fill="#ff8f1e"/><rect x="945.6" y="464.12" width="37.1" height="11.29" fill="#ff972d"/><rect x="982.4" y="464.12" width="110.7" height="11.29" fill="#ff9e3c"/><rect x="1092.8" y="464.12" width="37.1" height="11.29" fill="#ffa54a"/><rect x="1129.6" y="464.12" width="37.1" height="11.29" fill="#ffac59"/><rect x="1166.4" y="464.12" width="73.9" height="11.29" fill="#ffba75"/><rect x="1240.0" y="464.12" width="73.9" height="11.29" fill="#ffc183"/><rect x="1313.6" y="464.12" width="37.1" height="11.29" fill="#ffc890"/><rect x="1350.4" y="464.12" width="52.8" height="11.29" fill="#ffce9d"/><rect x="815.6" y="453.13" width="130.3" height="11.29" fill="#ff8000"/><rect x="945.6" y="453.13" width="37.1" height="11.29" fill="#ff880f"/><rect x="982.4" y="453.13" width="37.1" height="11.29" fill="#ff972d"/><rect x="1019.2" y="453.13" width="73.9" height="11.29" fill="#ff9e3c"/><rect x="1092.8" y="453.13" width="37.1" height="11.29" fill="#ffa54a"/><rect x="1129.6" y="453.13" width="37.1" height="11.29" fill="#ffac59"/><rect x="1166.4" y="453.13" width="73.9" height="11.29" fill="#ffba75"/><rect x="1240.0" y="453.13" width="73.9" height="11.29" fill="#ffc183"/><rect x="1313.6" y="453.13" width="37.1" height="11.29" fill="#ffc890"/><rect x="1350.4" y="453.13" width="52.8" height="11.29" fill="#ffce9d"/><rect x="815.6" y="442.14" width="167.1" height="11.29" fill="#ff8000"/><rect x="982.4" y="442.14" width="37.1" height="11.29" fill="#ff880f"/><rect x="1019.2" y="442.14" width="37.1" height="11.29" fill="#ff972d"/><rect x="1056.0" y="442.14" width="37.1" height="11.29" fill="#ff9e3c"/><rect x="1092.8" y="442.14" width="37.1" height="11.29" fill="#ffa54a"/><rect x="1129.6" y="442.14" width="37.1" height="11.29" fill="#ffb367"/><rect x="1166.4" y="442.14" width="73.9" height="11.29" fill="#ffba75"/><rect x="1240.0" y="442.14" width="73.9" height="11.29" fill="#ffc183"/><rect x="1313.6" y="442.14" width="37.1" height="11.29" fill="#ffc890"/><rect x="1350.4" y="442.14" width="52.8" height="11.29" fill="#ffce9d"/><rect x="815.6" y="431.16" width="203.9" height="11.29" fill="#ff8000"/><rect x="1019.2" y="431.16" width="37.1" height="11.29" fill="#ff880f"/><rect x="1056.0" y="431.16" width="37.1" height="11.29" fill="#ff972d"/><rect x="1092.8" y="431.16" width="37.1" height="11.29" fill="#ffa54a"/><rect x="1129.6" y="431.16" width="37.1" height="11.29" fill="#ffb367"/><rect x="1166.4" y="431.16" width="37.1" height="11.29" fill="#ffba75"/><rect x="1203.2" y="431.16" width="73.9" height="11.29" fill="#ffc183"/><rect x="1276.8" y="431.16" width="37.1" height="11.29" fill="#ffc890"/><rect x="1313.6" y="431.16" width="73.9" height="11.29" fill="#ffce9d"/><rect x="1387.2" y="431.16" width="16.0" height="11.29" fill="#ffd5aa"/><rect x="815.6" y="420.17" width="240.7" height="11.29" fill="#ff8000"/><rect x="1056.0" y="420.17" width="37.1" height="11.29" fill="#ff972d"/><rect x="1092.8" y="420.17" width="37.1" height="11.29" fill="#ffa54a"/><rect x="1129.6" y="420.17" width="37.1" height="11.29" fill="#ffb367"/><rect x="1166.4" y="420.17" width="37.1" height="11.29" fill="#ffba75"/><rect x="1203.2" y="420.17" width="73.9" height="11.29" fill="#ffc183"/><rect x="1276.8" y="420.17" width="37.1" height="11.29" fill="#ffc890"/><rect x="1313.6" y="420.17" width="73.9" height="11.29" fill="#ffce9d"/><rect x="1387.2" y="420.17" width="16.0" height="11.29" fill="#ffd5aa"/><rect x="815.6" y="409.18" width="240.7" height="11.29" fill="#ff8000"/><rect x="1056.0" y="409.18" width="37.1" height="11.29" fill="#ff880f"/><rect x="1092.8" y="409.18" width="37.1" height="11.29" fill="#ffa54a"/><rect x="1129.6" y="409.18" width="37.1" height="11.29" fill="#ffb367"/><rect x="1166.4" y="409.18" width="73.9" height="11.29" fill="#ffc183"/><rect x="1240.0" y="409.18" width="37.1" height="11.29" fill="#ffc890"/><rect x="1276.8" y="409.18" width="37.1" height="11.29" fill="#ffce9d"/><rect x="1313.6" y="409.18" width="73.9" height="11.29" fill="#ffd5aa"/><rect x="1387.2" y="409.18" width="16.0" height="11.29" fill="#ffdbb7"/><rect x="815.6" y="398.19" width="277.5" height="11.29" fill="#ff8000"/><rect x="1092.8" y="398.19" width="37.1" height="11.29" fill="#ffac59"/><rect x="1129.6" y="398.19" width="37.1" height="11.29" fill="#ffb367"/><rect x="1166.4" y="398.19" width="73.9" height="11.29" fill="#ffc183"/><rect x="1240.0" y="398.19" width="37.1" height="11.29" fill="#ffc890"/><rect x="1276.8" y="398.19" width="37.1" height="11.29" fill="#ffce9d"/><rect x="1313.6" y="398.19" width="73.9" height="11.29" fill="#ffd5aa"/><rect x="1387.2" y="398.19" width="16.0" height="11.29" fill="#ffdbb7"/><rect x="815.6" y="387.21" width="277.5" height="11.29" fill="#ff8000"/><rect x="1092.8" y="387.21" width="37.1" height="11.29" fill="#ffac59"/><rect x="1129.6" y="387.21" width="37.1" height="11.29" fill="#ffba75"/><rect x="1166.4" y="387.21" width="37.1" height="11.29" fill="#ffc183"/><rect x="1203.2" y="387.21" width="37.1" height="11.29" fill="#ffc890"/><rect x="1240.0" y="387.21" width="37.1" height="11.29" fill="#ffce9d"/><rect x="1276.8" y="387.21" width="37.1" height="11.29" fill="#ffd5aa"/><rect x="1313.6" y="387.21" width="73.9" height="11.29" fill="#ffdbb7"/><rect x="1387.2" y="387.21" width="16.0" height="11.29" fill="#ffe1c3"/><rect x="815.6" y="376.22" width="277.5" height="11.29" fill="#ff8000"/><rect x="1092.8" y="376.22" width="37.1" height="11.29" fill="#ffac59"/><rect x="1129.6" y="376.22" width="37.1" height="11.29" fill="#ffba75"/><rect x="1166.4" y="376.22" width="37.1" height="11.29" fill="#ffc183"/><rect x="1203.2" y="376.22" width="37.1" height="11.29" fill="#ffc890"/><rect x="1240.0" y="376.22" width="37.1" height="11.29" fill="#ffce9d"/><rect x="1276.8" y="376.22" width="37.1" height="11.29" fill="#ffd5aa"/><rect x="1313.6" y="376.22" width="73.9" height="11.29" fill="#ffdbb7"/><rect x="1387.2" y="376.22" width="16.0" height="11.29" fill="#ffe1c3"/><rect x="815.6" y="365.23" width="240.7" height="11.29" fill="#ff8000"/><rect x="1056.0" y="365.23" width="37.1" height="11.29" fill="#ff8f1e"/><rect x="1092.8" y="365.23" width="37.1" height="11.29" fill="#ffb367"/><rect x="1129.6" y="365.23" width="37.1" height="11.29" fill="#ffc183"/><rect x="1166.4" y="365.23" width="37.1" height="11.29" fill="#ffc890"/><rect x="1203.2" y="365.23" width="37.1" height="11.29" fill="#ffce9d"/><rect x="1240.0" y="365.23" width="37.1" height="11.29" fill="#ffd5aa"/><rect x="1276.8" y="365.23" width="37.1" height="11.29" fill="#ffdbb7"/><rect x="1313.6" y="365.23" width="73.9" height="11.29" fill="#ffe1c3"/><rect x="1387.2" y="365.23" width="16.0" height="11.29" fill="#ffe7cf"/><rect x="815.6" y="354.24" width="240.7" height="11.29" fill="#ff8000"/><rect x="1056.0" y="354.24" width="37.1" height="11.29" fill="#ff9e3c"/><rect x="1092.8" y="354.24" width="37.1" height="11.29" fill="#ffb367"/><rect x="1129.6" y="354.24" width="37.1" height="11.29" fill="#ffc183"/><rect x="1166.4" y="354.24" width="37.1" height="11.29" fill="#ffc890"/><rect x="1203.2" y="354.24" width="37.1" height="11.29" fill="#ffce9d"/><rect x="1240.0" y="354.24" width="37.1" height="11.29" fill="#ffd5aa"/><rect x="1276.8" y="354.24" width="37.1" height="11.29" fill="#ffdbb7"/><rect x="1313.6" y="354.24" width="37.1" height="11.29" fill="#ffe1c3"/><rect x="1350.4" y="354.24" width="52.8" height="11.29" fill="#ffe7cf"/><rect x="815.6" y="343.26" width="240.7" height="11.29" fill="#ff8000"/><rect x="1056.0" y="343.26" width="37.1" height="11.29" fill="#ffa54a"/><rect x="1092.8" y="343.26" width="37.1" height="11.29" fill="#ffba75"/><rect x="1129.6" y="343.26" width="37.1" height="11.29" fill="#ffc890"/><rect x="1166.4" y="343.26" width="37.1" height="11.29" fill="#ffce9d"/><rect x="1203.2" y="343.26" width="37.1" height="11.29" fill="#ffd5aa"/><rect x="1240.0" y="343.26" width="37.1" height="11.29" fill="#ffdbb7"/><rect x="1276.8" y="343.26" width="37.1" height="11.29" fill="#ffe1c3"/><rect x="1313.6" y="343.26" width="37.1" height="11.29" fill="#ffe7cf"/><rect x="1350.4" y="343.26" width="52.8" height="11.29" fill="#ffedda"/><rect x="815.6" y="332.27" width="203.9" height="11.29" fill="#ff8000"/><rect x="1019.2" y="332.27" width="37.1" height="11.29" fill="#ff9e3c"/><rect x="1056.0" y="332.27" width="37.1" height="11.29" fill="#ffb367"/><rect x="1092.8" y="332.27" width="37.1" height="11.29" fill="#ffba75"/><rect x="1129.6" y="332.27" width="37.1" height="11.29" fill="#ffc890"/><rect x="1166.4" y="332.27" width="37.1" height="11.29" fill="#ffce9d"/><rect x="1203.2" y="332.27" width="37.1" height="11.29" fill="#ffd5aa"/><rect x="1240.0" y="332.27" width="37.1" height="11.29" fill="#ffdbb7"/><rect x="1276.8" y="332.27" width="37.1" height="11.29" fill="#ffe1c3"/><rect x="1313.6" y="332.27" width="37.1" height="11.29" fill="#ffe7cf"/><rect x="1350.4" y="332.27" width="37.1" height="11.29" fill="#ffedda"/><rect x="1387.2" y="332.27" width="16.0" height="11.29" fill="#fff2e5"/><rect x="815.6" y="321.28" width="167.1" height="11.29" fill="#ff8000"/><rect x="982.4" y="321.28" width="37.1" height="11.29" fill="#ff8f1e"/><rect x="1019.2" y="321.28" width="37.1" height="11.29" fill="#ffac59"/><rect x="1056.0" y="321.28" width="37.1" height="11.29" fill="#ffba75"/><rect x="1092.8" y="321.28" width="37.1" height="11.29" fill="#ffc183"/><rect x="1129.6" y="321.28" width="37.1" height="11.29" fill="#ffce9d"/><rect x="1166.4" y="321.28" width="37.1" height="11.29" fill="#ffd5aa"/><rect x="1203.2" y="321.28" width="37.1" height="11.29" fill="#ffdbb7"/><rect x="1240.0" y="321.28" width="37.1" height="11.29" fill="#ffe1c3"/><rect x="1276.8" y="321.28" width="37.1" height="11.29" fill="#ffe7cf"/><rect x="1313.6" y="321.28" width="37.1" height="11.29" fill="#ffedda"/><rect x="1350.4" y="321.28" width="37.1" height="11.29" fill="#fff2e5"/><rect x="1387.2" y="321.28" width="16.0" height="11.29" fill="#fff7ef"/><rect x="815.6" y="310.29" width="167.1" height="11.29" fill="#ff8000"/><rect x="982.4" y="310.29" width="37.1" height="11.29" fill="#ffa54a"/><rect x="1019.2" y="310.29" width="37.1" height="11.29" fill="#ffb367"/><rect x="1056.0" y="310.29" width="37.1" height="11.29" fill="#ffc183"/><rect x="1092.8" y="310.29" width="37.1" height="11.29" fill="#ffc890"/><rect x="1129.6" y="310.29" width="37.1" height="11.29" fill="#ffce9d"/><rect x="1166.4" y="310.29" width="37.1" height="11.29" fill="#ffd5aa"/><rect x="1203.2" y="310.29" width="37.1" height="11.29" fill="#ffdbb7"/><rect x="1240.0" y="310.29" width="37.1" height="11.29" fill="#ffe1c3"/><rect x="1276.8" y="310.29" width="37.1" height="11.29" fill="#ffe7cf"/><rect x="1313.6" y="310.29" width="37.1" height="11.29" fill="#ffedda"/><rect x="1350.4" y="310.29" width="37.1" height="11.29" fill="#fff2e5"/><rect x="1387.2" y="310.29" width="16.0" height="11.29" fill="#fff7ef"/><rect x="815.6" y="299.31" width="130.3" height="11.29" fill="#ff8000"/><rect x="945.6" y="299.31" width="37.1" height="11.29" fill="#ff972d"/><rect x="982.4" y="299.31" width="37.1" height="11.29" fill="#ffb367"/><rect x="1019.2" y="299.31" width="37.1" height="11.29" fill="#ffc183"/><rect x="1056.0" y="299.31" width="73.9" height="11.29" fill="#ffce9d"/><rect x="1129.6" y="299.31" width="37.1" height="11.29" fill="#ffd5aa"/><rect x="1166.4" y="299.31" width="37.1" height="11.29" fill="#ffdbb7"/><rect x="1203.2" y="299.31" width="37.1" height="11.29" fill="#ffe1c3"/><rect x="1240.0" y="299.31" width="37.1" height="11.29" fill="#ffe7cf"/><rect x="1276.8" y="299.31" width="37.1" height="11.29" fill="#ffedda"/><rect x="1313.6" y="299.31" width="37.1" height="11.29" fill="#fff2e5"/><rect x="1350.4" y="299.31" width="37.1" height="11.29" fill="#fff7ef"/><rect x="1387.2" y="299.31" width="16.0" height="11.29" fill="#fffcf8"/><rect x="815.6" y="288.32" width="93.5" height="11.29" fill="#ff8000"/><rect x="908.8" y="288.32" width="37.1" height="11.29" fill="#ffa54a"/><rect x="945.6" y="288.32" width="37.1" height="11.29" fill="#ffba75"/><rect x="982.4" y="288.32" width="37.1" height="11.29" fill="#ffc890"/><rect x="1019.2" y="288.32" width="37.1" height="11.29" fill="#ffce9d"/><rect x="1056.0" y="288.32" width="73.9" height="11.29" fill="#ffd5aa"/><rect x="1129.6" y="288.32" width="37.1" height="11.29" fill="#ffdbb7"/><rect x="1166.4" y="288.32" width="37.1" height="11.29" fill="#ffe1c3"/><rect x="1203.2" y="288.32" width="37.1" height="11.29" fill="#ffe7cf"/><rect x="1240.0" y="288.32" width="37.1" height="11.29" fill="#ffedda"/><rect x="1276.8" y="288.32" width="37.1" height="11.29" fill="#fff2e5"/><rect x="1313.6" y="288.32" width="37.1" height="11.29" fill="#fff7ef"/><rect x="1350.4" y="288.32" width="37.1" height="11.29" fill="#fffcf8"/><rect x="815.6" y="277.33" width="56.7" height="11.29" fill="#ff8000"/><rect x="872.0" y="277.33" width="37.1" height="11.29" fill="#ff9e3c"/><rect x="908.8" y="277.33" width="37.1" height="11.29" fill="#ffb367"/><rect x="945.6" y="277.33" width="37.1" height="11.29" fill="#ffc183"/><rect x="982.4" y="277.33" width="37.1" height="11.29" fill="#ffce9d"/><rect x="1019.2" y="277.33" width="37.1" height="11.29" fill="#ffd5aa"/><rect x="1056.0" y="277.33" width="37.1" height="11.29" fill="#ffdbb7"/><rect x="1092.8" y="277.33" width="37.1" height="11.29" fill="#ffd5aa"/><rect x="1129.6" y="277.33" width="37.1" height="11.29" fill="#ffdbb7"/><rect x="1166.4" y="277.33" width="37.1" height="11.29" fill="#ffe7cf"/><rect x="1203.2" y="277.33" width="37.1" height="11.29" fill="#ffedda"/><rect x="1240.0" y="277.33" width="37.1" height="11.29" fill="#fff2e5"/><rect x="1276.8" y="277.33" width="37.1" height="11.29" fill="#fff7ef"/><rect x="1313.6" y="277.33" width="37.1" height="11.29" fill="#fffcf8"/><rect x="815.6" y="266.34" width="56.7" height="11.29" fill="#ff8000"/><rect x="872.0" y="266.34" width="37.1" height="11.29" fill="#ffb367"/><rect x="908.8" y="266.34" width="37.1" height="11.29" fill="#ffba75"/><rect x="945.6" y="266.34" width="37.1" height="11.29" fill="#ffc183"/><rect x="982.4" y="266.34" width="73.9" height="11.29" fill="#ffd5aa"/><rect x="1056.0" y="266.34" width="73.9" height="11.29" fill="#ffe1c3"/><rect x="1129.6" y="266.34" width="37.1" height="11.29" fill="#ffe7cf"/><rect x="1166.4" y="266.34" width="37.1" height="11.29" fill="#ffedda"/><rect x="1203.2" y="266.34" width="37.1" height="11.29" fill="#fff2e5"/><rect x="1240.0" y="266.34" width="37.1" height="11.29" fill="#fff7ef"/><rect x="1276.8" y="266.34" width="37.1" height="11.29" fill="#fffcf8"/><rect x="815.6" y="255.36" width="56.7" height="11.29" fill="#ff8000"/><rect x="872.0" y="255.36" width="37.1" height="11.29" fill="#ffba75"/><rect x="908.8" y="255.36" width="37.1" height="11.29" fill="#ffc183"/><rect x="945.6" y="255.36" width="37.1" height="11.29" fill="#ffce9d"/><rect x="982.4" y="255.36" width="37.1" height="11.29" fill="#ffd5aa"/><rect x="1019.2" y="255.36" width="37.1" height="11.29" fill="#ffdbb7"/><rect x="1056.0" y="255.36" width="37.1" height="11.29" fill="#ffe1c3"/><rect x="1092.8" y="255.36" width="37.1" height="11.29" fill="#ffe7cf"/><rect x="1129.6" y="255.36" width="37.1" height="11.29" fill="#ffedda"/><rect x="1166.4" y="255.36" width="37.1" height="11.29" fill="#fff2e5"/><rect x="1203.2" y="255.36" width="37.1" height="11.29" fill="#fff7ef"/><rect x="1240.0" y="255.36" width="37.1" height="11.29" fill="#fffcf8"/><rect x="815.6" y="244.37" width="56.7" height="11.29" fill="#ff8000"/><rect x="872.0" y="244.37" width="37.1" height="11.29" fill="#ffb367"/><rect x="908.8" y="244.37" width="37.1" height="11.29" fill="#ffc183"/><rect x="945.6" y="244.37" width="37.1" height="11.29" fill="#ffd5aa"/><rect x="982.4" y="244.37" width="37.1" height="11.29" fill="#ffdbb7"/><rect x="1019.2" y="244.37" width="37.1" height="11.29" fill="#ffe1c3"/><rect x="1056.0" y="244.37" width="37.1" height="11.29" fill="#ffe7cf"/><rect x="1092.8" y="244.37" width="37.1" height="11.29" fill="#ffedda"/><rect x="1129.6" y="244.37" width="37.1" height="11.29" fill="#fff2e5"/><rect x="1166.4" y="244.37" width="37.1" height="11.29" fill="#fff7ef"/><rect x="1203.2" y="244.37" width="37.1" height="11.29" fill="#fffcf8"/><rect x="815.6" y="233.38" width="56.7" height="11.29" fill="#ff8000"/><rect x="872.0" y="233.38" width="37.1" height="11.29" fill="#ff972d"/><rect x="908.8" y="233.38" width="37.1" height="11.29" fill="#ffba75"/><rect x="945.6" y="233.38" width="37.1" height="11.29" fill="#ffce9d"/><rect x="982.4" y="233.38" width="37.1" height="11.29" fill="#ffdbb7"/><rect x="1019.2" y="233.38" width="37.1" height="11.29" fill="#ffe7cf"/><rect x="1056.0" y="233.38" width="37.1" height="11.29" fill="#ffedda"/><rect x="1092.8" y="233.38" width="37.1" height="11.29" fill="#fff2e5"/><rect x="1129.6" y="233.38" width="73.9" height="11.29" fill="#fff7ef"/><rect x="1203.2" y="233.38" width="37.1" height="11.29" fill="#fffcf8"/><rect x="815.6" y="222.39" width="93.5" height="11.29" fill="#ff8000"/><rect x="908.8" y="222.39" width="37.1" height="11.29" fill="#ffac59"/><rect x="945.6" y="222.39" width="37.1" height="11.29" fill="#ffc890"/><rect x="982.4" y="222.39" width="37.1" height="11.29" fill="#ffdbb7"/><rect x="1019.2" y="222.39" width="37.1" height="11.29" fill="#ffe7cf"/><rect x="1056.0" y="222.39" width="37.1" height="11.29" fill="#ffedda"/><rect x="1092.8" y="222.39" width="37.1" height="11.29" fill="#fff2e5"/><rect x="1129.6" y="222.39" width="73.9" height="11.29" fill="#fffcf8"/><rect x="815.6" y="211.41" width="130.3" height="11.29" fill="#ff8000"/><rect x="945.6" y="211.41" width="37.1" height="11.29" fill="#ffc183"/><rect x="982.4" y="211.41" width="37.1" height="11.29" fill="#ffd5aa"/><rect x="1019.2" y="211.41" width="37.1" height="11.29" fill="#ffe1c3"/><rect x="1056.0" y="211.41" width="37.1" height="11.29" fill="#ffedda"/><rect x="1092.8" y="211.41" width="37.1" height="11.29" fill="#fff2e5"/><rect x="1129.6" y="211.41" width="37.1" height="11.29" fill="#fffcf8"/><rect x="815.6" y="200.42" width="130.3" height="11.29" fill="#ff8000"/><rect x="945.6" y="200.42" width="37.1" height="11.29" fill="#ffb367"/><rect x="982.4" y="200.42" width="37.1" height="11.29" fill="#ffd5aa"/><rect x="1019.2" y="200.42" width="37.1" height="11.29" fill="#ffe1c3"/><rect x="1056.0" y="200.42" width="37.1" height="11.29" fill="#ffedda"/><rect x="1092.8" y="200.42" width="37.1" height="11.29" fill="#fff2e5"/><rect x="1129.6" y="200.42" width="37.1" height="11.29" fill="#fffcf8"/><rect x="815.6" y="189.43" width="130.3" height="11.29" fill="#ff8000"/><rect x="945.6" y="189.43" width="37.1" height="11.29" fill="#ffa54a"/><rect x="982.4" y="189.43" width="37.1" height="11.29" fill="#ffce9d"/><rect x="1019.2" y="189.43" width="37.1" height="11.29" fill="#ffe1c3"/><rect x="1056.0" y="189.43" width="37.1" height="11.29" fill="#ffe7cf"/><rect x="1092.8" y="189.43" width="37.1" height="11.29" fill="#fff2e5"/><rect x="1129.6" y="189.43" width="37.1" height="11.29" fill="#fffcf8"/><rect x="815.6" y="178.44" width="167.1" height="11.29" fill="#ff8000"/><rect x="982.4" y="178.44" width="37.1" height="11.29" fill="#ffc890"/><rect x="1019.2" y="178.44" width="37.1" height="11.29" fill="#ffdbb7"/><rect x="1056.0" y="178.44" width="37.1" height="11.29" fill="#ffe7cf"/><rect x="1092.8" y="178.44" width="37.1" height="11.29" fill="#fff2e5"/><rect x="1129.6" y="178.44" width="37.1" height="11.29" fill="#fffcf8"/><rect x="815.6" y="167.46" width="167.1" height="11.29" fill="#ff8000"/><rect x="982.4" y="167.46" width="37.1" height="11.29" fill="#ffc890"/><rect x="1019.2" y="167.46" width="37.1" height="11.29" fill="#ffdbb7"/><rect x="1056.0" y="167.46" width="37.1" height="11.29" fill="#ffedda"/><rect x="1092.8" y="167.46" width="37.1" height="11.29" fill="#fff2e5"/><rect x="1129.6" y="167.46" width="37.1" height="11.29" fill="#fffcf8"/><rect x="815.6" y="156.47" width="167.1" height="11.29" fill="#ff8000"/><rect x="982.4" y="156.47" width="37.1" height="11.29" fill="#ffc890"/><rect x="1019.2" y="156.47" width="37.1" height="11.29" fill="#ffdbb7"/><rect x="1056.0" y="156.47" width="37.1" height="11.29" fill="#ffedda"/><rect x="1092.8" y="156.47" width="37.1" height="11.29" fill="#fff2e5"/><rect x="1129.6" y="156.47" width="37.1" height="11.29" fill="#fffcf8"/><rect x="815.6" y="145.48" width="167.1" height="11.29" fill="#ff8000"/><rect x="982.4" y="145.48" width="37.1" height="11.29" fill="#ffc890"/><rect x="1019.2" y="145.48" width="37.1" height="11.29" fill="#ffdbb7"/><rect x="1056.0" y="145.48" width="37.1" height="11.29" fill="#ffedda"/><rect x="1092.8" y="145.48" width="37.1" height="11.29" fill="#fff2e5"/><rect x="1129.6" y="145.48" width="37.1" height="11.29" fill="#fffcf8"/><rect x="815.6" y="134.49" width="167.1" height="11.29" fill="#ff8000"/><rect x="982.4" y="134.49" width="37.1" height="11.29" fill="#ffce9d"/><rect x="1019.2" y="134.49" width="37.1" height="11.29" fill="#ffe1c3"/><rect x="1056.0" y="134.49" width="37.1" height="11.29" fill="#ffedda"/><rect x="1092.8" y="134.49" width="37.1" height="11.29" fill="#fff2e5"/><rect x="1129.6" y="134.49" width="37.1" height="11.29" fill="#fffcf8"/><rect x="815.6" y="123.51" width="130.3" height="11.29" fill="#ff8000"/><rect x="945.6" y="123.51" width="37.1" height="11.29" fill="#ffac59"/><rect x="982.4" y="123.51" width="37.1" height="11.29" fill="#ffd5aa"/><rect x="1019.2" y="123.51" width="37.1" height="11.29" fill="#ffe1c3"/><rect x="1056.0" y="123.51" width="37.1" height="11.29" fill="#ffedda"/><rect x="1092.8" y="123.51" width="37.1" height="11.29" fill="#fff2e5"/><rect x="1129.6" y="123.51" width="37.1" height="11.29" fill="#fffcf8"/><rect x="815.6" y="112.52" width="130.3" height="11.29" fill="#ff8000"/><rect x="945.6" y="112.52" width="37.1" height="11.29" fill="#ffba75"/><rect x="982.4" y="112.52" width="37.1" height="11.29" fill="#ffd5aa"/><rect x="1019.2" y="112.52" width="37.1" height="11.29" fill="#ffe1c3"/><rect x="1056.0" y="112.52" width="37.1" height="11.29" fill="#ffedda"/><rect x="1092.8" y="112.52" width="37.1" height="11.29" fill="#fff2e5"/><rect x="1129.6" y="112.52" width="37.1" height="11.29" fill="#fffcf8"/><rect x="815.6" y="101.53" width="130.3" height="11.29" fill="#ff8000"/><rect x="945.6" y="101.53" width="37.1" height="11.29" fill="#ffc890"/><rect x="982.4" y="101.53" width="37.1" height="11.29" fill="#ffd5aa"/><rect x="1019.2" y="101.53" width="37.1" height="11.29" fill="#ffe7cf"/><rect x="1056.0" y="101.53" width="37.1" height="11.29" fill="#ffedda"/><rect x="1092.8" y="101.53" width="37.1" height="11.29" fill="#fff2e5"/><rect x="1129.6" y="101.53" width="37.1" height="11.29" fill="#fffcf8"/><rect x="815.6" y="90.54" width="93.5" height="11.29" fill="#ff8000"/><rect x="908.8" y="90.54" width="37.1" height="11.29" fill="#ffa54a"/><rect x="945.6" y="90.54" width="37.1" height="11.29" fill="#ffce9d"/><rect x="982.4" y="90.54" width="37.1" height="11.29" fill="#ffdbb7"/><rect x="1019.2" y="90.54" width="37.1" height="11.29" fill="#ffe7cf"/><rect x="1056.0" y="90.54" width="37.1" height="11.29" fill="#ffedda"/><rect x="1092.8" y="90.54" width="37.1" height="11.29" fill="#fff2e5"/><rect x="1129.6" y="90.54" width="37.1" height="11.29" fill="#fffcf8"/><rect x="815.6" y="79.56" width="93.5" height="11.29" fill="#ff8000"/><rect x="908.8" y="79.56" width="37.1" height="11.29" fill="#ffc183"/><rect x="945.6" y="79.56" width="37.1" height="11.29" fill="#ffd5aa"/><rect x="982.4" y="79.56" width="37.1" height="11.29" fill="#ffdbb7"/><rect x="1019.2" y="79.56" width="37.1" height="11.29" fill="#ffe7cf"/><rect x="1056.0" y="79.56" width="37.1" height="11.29" fill="#ffedda"/><rect x="1092.8" y="79.56" width="37.1" height="11.29" fill="#fff2e5"/><rect x="1129.6" y="79.56" width="73.9" height="11.29" fill="#fffcf8"/><rect x="815.6" y="68.57" width="56.7" height="11.29" fill="#ff8000"/><rect x="872.0" y="68.57" width="37.1" height="11.29" fill="#ffa54a"/><rect x="908.8" y="68.57" width="37.1" height="11.29" fill="#ffce9d"/><rect x="945.6" y="68.57" width="37.1" height="11.29" fill="#ffdbb7"/><rect x="982.4" y="68.57" width="73.9" height="11.29" fill="#ffe1c3"/><rect x="1056.0" y="68.57" width="37.1" height="11.29" fill="#ffedda"/><rect x="1092.8" y="68.57" width="37.1" height="11.29" fill="#fff2e5"/><rect x="1129.6" y="68.57" width="37.1" height="11.29" fill="#fff7ef"/><rect x="1166.4" y="68.57" width="37.1" height="11.29" fill="#fffcf8"/><rect x="815.6" y="57.58" width="56.7" height="11.29" fill="#ff8000"/><rect x="872.0" y="57.58" width="37.1" height="11.29" fill="#ffc183"/><rect x="908.8" y="57.58" width="37.1" height="11.29" fill="#ffce9d"/><rect x="945.6" y="57.58" width="37.1" height="11.29" fill="#ffdbb7"/><rect x="982.4" y="57.58" width="73.9" height="11.29" fill="#ffe1c3"/><rect x="1056.0" y="57.58" width="37.1" height="11.29" fill="#ffedda"/><rect x="1092.8" y="57.58" width="37.1" height="11.29" fill="#fff2e5"/><rect x="1129.6" y="57.58" width="37.1" height="11.29" fill="#fff7ef"/><rect x="1166.4" y="57.58" width="73.9" height="11.29" fill="#fffcf8"/><rect x="815.6" y="46.59" width="19.9" height="11.29" fill="#ff8000"/><rect x="835.2" y="46.59" width="37.1" height="11.29" fill="#ffac59"/><rect x="872.0" y="46.59" width="73.9" height="11.29" fill="#ffd5aa"/><rect x="945.6" y="46.59" width="110.7" height="11.29" fill="#ffe1c3"/><rect x="1056.0" y="46.59" width="37.1" height="11.29" fill="#ffedda"/><rect x="1092.8" y="46.59" width="37.1" height="11.29" fill="#fff2e5"/><rect x="1129.6" y="46.59" width="37.1" height="11.29" fill="#fff7ef"/><rect x="1166.4" y="46.59" width="110.7" height="11.29" fill="#fffcf8"/><rect x="815.6" y="41.10" width="19.9" height="5.79" fill="#ff8000"/><rect x="835.2" y="41.10" width="37.1" height="5.79" fill="#ffc890"/><rect x="872.0" y="41.10" width="73.9" height="5.79" fill="#ffd5aa"/><rect x="945.6" y="41.10" width="73.9" height="5.79" fill="#ffe1c3"/><rect x="1019.2" y="41.10" width="37.1" height="5.79" fill="#ffe7cf"/><rect x="1056.0" y="41.10" width="73.9" height="5.79" fill="#ffedda"/><rect x="1129.6" y="41.10" width="37.1" height="5.79" fill="#fff7ef"/><rect x="1166.4" y="41.10" width="110.7" height="5.79" fill="#fffcf8"/></g><g stroke="#000"><line x1="815.60" y1="480.6" x2="815.60" y2="471.6" stroke-width="2"/><line x1="815.60" y1="41.1" x2="815.60" y2="50.1" stroke-width="2"/><line x1="844.97" y1="480.6" x2="844.97" y2="477.40000000000003" stroke-width="2"/><line x1="844.97" y1="41.1" x2="844.97" y2="44.300000000000004" stroke-width="2"/><line x1="874.33" y1="480.6" x2="874.33" y2="477.40000000000003" stroke-width="2"/><line x1="874.33" y1="41.1" x2="874.33" y2="44.300000000000004" stroke-width="2"/><line x1="903.70" y1="480.6" x2="903.70" y2="477.40000000000003" stroke-width="2"/><line x1="903.70" y1="41.1" x2="903.70" y2="44.300000000000004" stroke-width="2"/><line x1="933.06" y1="480.6" x2="933.06" y2="477.40000000000003" stroke-width="2"/><line x1="933.06" y1="41.1" x2="933.06" y2="44.300000000000004" stroke-width="2"/><line x1="962.42" y1="480.6" x2="962.42" y2="471.6" stroke-width="2"/><line x1="962.42" y1="41.1" x2="962.42" y2="50.1" stroke-width="2"/><line x1="991.79" y1="480.6" x2="991.79" y2="477.40000000000003" stroke-width="2"/><line x1="991.79" y1="41.1" x2="991.79" y2="44.300000000000004" stroke-width="2"/><line x1="1021.15" y1="480.6" x2="1021.15" y2="477.40000000000003" stroke-width="2"/><line x1="1021.15" y1="41.1" x2="1021.15" y2="44.300000000000004" stroke-width="2"/><line x1="1050.52" y1="480.6" x2="1050.52" y2="477.40000000000003" stroke-width="2"/><line x1="1050.52" y1="41.1" x2="1050.52" y2="44.300000000000004" stroke-width="2"/><line x1="1079.88" y1="480.6" x2="1079.88" y2="477.40000000000003" stroke-width="2"/><line x1="1079.88" y1="41.1" x2="1079.88" y2="44.300000000000004" stroke-width="2"/><line x1="1109.25" y1="480.6" x2="1109.25" y2="471.6" stroke-width="2"/><line x1="1109.25" y1="41.1" x2="1109.25" y2="50.1" stroke-width="2"/><line x1="1138.62" y1="480.6" x2="1138.62" y2="477.40000000000003" stroke-width="2"/><line x1="1138.62" y1="41.1" x2="1138.62" y2="44.300000000000004" stroke-width="2"/><line x1="1167.98" y1="480.6" x2="1167.98" y2="477.40000000000003" stroke-width="2"/><line x1="1167.98" y1="41.1" x2="1167.98" y2="44.300000000000004" stroke-width="2"/><line x1="1197.35" y1="480.6" x2="1197.35" y2="477.40000000000003" stroke-width="2"/><line x1="1197.35" y1="41.1" x2="1197.35" y2="44.300000000000004" stroke-width="2"/><line x1="1226.71" y1="480.6" x2="1226.71" y2="477.40000000000003" stroke-width="2"/><line x1="1226.71" y1="41.1" x2="1226.71" y2="44.300000000000004" stroke-width="2"/><line x1="1256.08" y1="480.6" x2="1256.08" y2="471.6" stroke-width="2"/><line x1="1256.08" y1="41.1" x2="1256.08" y2="50.1" stroke-width="2"/><line x1="1285.44" y1="480.6" x2="1285.44" y2="477.40000000000003" stroke-width="2"/><line x1="1285.44" y1="41.1" x2="1285.44" y2="44.300000000000004" stroke-width="2"/><line x1="1314.80" y1="480.6" x2="1314.80" y2="477.40000000000003" stroke-width="2"/><line x1="1314.80" y1="41.1" x2="1314.80" y2="44.300000000000004" stroke-width="2"/><line x1="1344.17" y1="480.6" x2="1344.17" y2="477.40000000000003" stroke-width="2"/><line x1="1344.17" y1="41.1" x2="1344.17" y2="44.300000000000004" stroke-width="2"/><line x1="1373.53" y1="480.6" x2="1373.53" y2="477.40000000000003" stroke-width="2"/><line x1="1373.53" y1="41.1" x2="1373.53" y2="44.300000000000004" stroke-width="2"/><line x1="1402.90" y1="480.6" x2="1402.90" y2="471.6" stroke-width="2"/><line x1="1402.90" y1="41.1" x2="1402.90" y2="50.1" stroke-width="2"/><line x1="815.6" y1="480.60" x2="824.6" y2="480.60" stroke-width="2"/><line x1="1402.9" y1="480.60" x2="1393.9" y2="480.60" stroke-width="2"/><line x1="815.6" y1="458.62" x2="818.8000000000001" y2="458.62" stroke-width="2"/><line x1="1402.9" y1="458.62" x2="1399.7" y2="458.62" stroke-width="2"/><line x1="815.6" y1="436.65" x2="818.8000000000001" y2="436.65" stroke-width="2"/><line x1="1402.9" y1="436.65" x2="1399.7" y2="436.65" stroke-width="2"/><line x1="815.6" y1="414.68" x2="818.8000000000001" y2="414.68" stroke-width="2"/><line x1="1402.9" y1="414.68" x2="1399.7" y2="414.68" stroke-width="2"/><line x1="815.6" y1="392.70" x2="818.8000000000001" y2="392.70" stroke-width="2"/><line x1="1402.9" y1="392.70" x2="1399.7" y2="392.70" stroke-width="2"/><line x1="815.6" y1="370.73" x2="824.6" y2="370.73" stroke-width="2"/><line x1="1402.9" y1="370.73" x2="1393.9" y2="370.73" stroke-width="2"/><line x1="815.6" y1="348.75" x2="818.8000000000001" y2="348.75" stroke-width="2"/><line x1="1402.9" y1="348.75" x2="1399.7" y2="348.75" stroke-width="2"/><line x1="815.6" y1="326.78" x2="818.8000000000001" y2="326.78" stroke-width="2"/><line x1="1402.9" y1="326.78" x2="1399.7" y2="326.78" stroke-width="2"/><line x1="815.6" y1="304.80" x2="818.8000000000001" y2="304.80" stroke-width="2"/><line x1="1402.9" y1="304.80" x2="1399.7" y2="304.80" stroke-width="2"/><line x1="815.6" y1="282.83" x2="818.8000000000001" y2="282.83" stroke-width="2"/><line x1="1402.9" y1="282.83" x2="1399.7" y2="282.83" stroke-width="2"/><line x1="815.6" y1="260.85" x2="824.6" y2="260.85" stroke-width="2"/><line x1="1402.9" y1="260.85" x2="1393.9" y2="260.85" stroke-width="2"/><line x1="815.6" y1="238.88" x2="818.8000000000001" y2="238.88" stroke-width="2"/><line x1="1402.9" y1="238.88" x2="1399.7" y2="238.88" stroke-width="2"/><line x1="815.6" y1="216.90" x2="818.8000000000001" y2="216.90" stroke-width="2"/><line x1="1402.9" y1="216.90" x2="1399.7" y2="216.90" stroke-width="2"/><line x1="815.6" y1="194.93" x2="818.8000000000001" y2="194.93" stroke-width="2"/><line x1="1402.9" y1="194.93" x2="1399.7" y2="194.93" stroke-width="2"/><line x1="815.6" y1="172.95" x2="818.8000000000001" y2="172.95" stroke-width="2"/><line x1="1402.9" y1="172.95" x2="1399.7" y2="172.95" stroke-width="2"/><line x1="815.6" y1="150.98" x2="824.6" y2="150.98" stroke-width="2"/><line x1="1402.9" y1="150.98" x2="1393.9" y2="150.98" stroke-width="2"/><line x1="815.6" y1="129.00" x2="818.8000000000001" y2="129.00" stroke-width="2"/><line x1="1402.9" y1="129.00" x2="1399.7" y2="129.00" stroke-width="2"/><line x1="815.6" y1="107.03" x2="818.8000000000001" y2="107.03" stroke-width="2"/><line x1="1402.9" y1="107.03" x2="1399.7" y2="107.03" stroke-width="2"/><line x1="815.6" y1="85.05" x2="818.8000000000001" y2="85.05" stroke-width="2"/><line x1="1402.9" y1="85.05" x2="1399.7" y2="85.05" stroke-width="2"/><line x1="815.6" y1="63.08" x2="818.8000000000001" y2="63.08" stroke-width="2"/><line x1="1402.9" y1="63.08" x2="1399.7" y2="63.08" stroke-width="2"/><line x1="815.6" y1="41.10" x2="824.6" y2="41.10" stroke-width="2"/><line x1="1402.9" y1="41.10" x2="1393.9" y2="41.10" stroke-width="2"/></g><rect x="815.6" y="41.1" width="587.3" height="439.5" fill="none" stroke="#000" stroke-width="2.2"/><text x="815.60" y="519.6" font-size="31" text-anchor="middle">0</text><text x="962.42" y="519.6" font-size="31" text-anchor="middle">0.02</text><text x="1109.25" y="519.6" font-size="31" text-anchor="middle">0.04</text><text x="1256.08" y="519.6" font-size="31" text-anchor="middle">0.06</text><text x="1402.90" y="519.6" font-size="31" text-anchor="middle">0.08</text><text x="804.6" y="491.10" font-size="31" text-anchor="end">0</text><text x="804.6" y="381.23" font-size="31" text-anchor="end">0.5</text><text x="804.6" y="271.35" font-size="31" text-anchor="end">1</text><text x="804.6" y="161.48" font-size="31" text-anchor="end">1.5</text><text x="804.6" y="51.60" font-size="31" text-anchor="end">2</text><text x="1119.25" y="570.2" font-size="42.5" text-anchor="middle">t/U</text><text transform="translate(748.6,259.85) rotate(-90)" font-size="41" text-anchor="middle">μ/U</text><text x="1109.25" y="24.4" font-size="32" text-anchor="middle">T/U=0.05</text><text x="1381.4" y="111.6" font-size="50.5" text-anchor="end">(b)</text><g shape-rendering="crispEdges"><rect x="94.9" y="1070.11" width="167.1" height="5.79" fill="#ff8000"/><rect x="261.7" y="1070.11" width="37.1" height="5.79" fill="#ff8f1e"/><rect x="298.5" y="1070.11" width="37.1" height="5.79" fill="#ff972d"/><rect x="335.3" y="1070.11" width="37.1" height="5.79" fill="#ff9e3c"/><rect x="372.1" y="1070.11" width="37.1" height="5.79" fill="#ffa54a"/><rect x="408.9" y="1070.11" width="37.1" height="5.79" fill="#ffb367"/><rect x="445.7" y="1070.11" width="73.9" height="5.79" fill="#ffba75"/><rect x="519.3" y="1070.11" width="73.9" height="5.79" fill="#ffc183"/><rect x="592.9" y="1070.11" width="37.1" height="5.79" fill="#ffc890"/><rect x="629.7" y="1070.11" width="52.8" height="5.79" fill="#ffce9d"/><rect x="94.9" y="1059.12" width="167.1" height="11.29" fill="#ff8000"/><rect x="261.7" y="1059.12" width="37.1" height="11.29" fill="#ff8f1e"/><rect x="298.5" y="1059.12" width="37.1" height="11.29" fill="#ff972d"/><rect x="335.3" y="1059.12" width="37.1" height="11.29" fill="#ff9e3c"/><rect x="372.1" y="1059.12" width="37.1" height="11.29" fill="#ffa54a"/><rect x="408.9" y="1059.12" width="37.1" height="11.29" fill="#ffb367"/><rect x="445.7" y="1059.12" width="73.9" height="11.29" fill="#ffba75"/><rect x="519.3" y="1059.12" width="73.9" height="11.29" fill="#ffc183"/><rect x="592.9" y="1059.12" width="37.1" height="11.29" fill="#ffc890"/><rect x="629.7" y="1059.12" width="52.8" height="11.29" fill="#ffce9d"/><rect x="94.9" y="1048.13" width="167.1" height="11.29" fill="#ff8000"/><rect x="261.7" y="1048.13" width="37.1" height="11.29" fill="#ff8f1e"/><rect x="298.5" y="1048.13" width="37.1" height="11.29" fill="#ff972d"/><rect x="335.3" y="1048.13" width="37.1" height="11.29" fill="#ff9e3c"/><rect x="372.1" y="1048.13" width="37.1" height="11.29" fill="#ffa54a"/><rect x="408.9" y="1048.13" width="37.1" height="11.29" fill="#ffb367"/><rect x="445.7" y="1048.13" width="73.9" height="11.29" fill="#ffba75"/><rect x="519.3" y="1048.13" width="73.9" height="11.29" fill="#ffc183"/><rect x="592.9" y="1048.13" width="37.1" height="11.29" fill="#ffc890"/><rect x="629.7" y="1048.13" width="52.8" height="11.29" fill="#ffce9d"/><rect x="94.9" y="1037.14" width="203.9" height="11.29" fill="#ff8000"/><rect x="298.5" y="1037.14" width="37.1" height="11.29" fill="#ff880f"/><rect x="335.3" y="1037.14" width="37.1" height="11.29" fill="#ff972d"/><rect x="372.1" y="1037.14" width="37.1" height="11.29" fill="#ffa54a"/><rect x="408.9" y="1037.14" width="110.7" height="11.29" fill="#ffba75"/><rect x="519.3" y="1037.14" width="73.9" height="11.29" fill="#ffc183"/><rect x="592.9" y="1037.14" width="37.1" height="11.29" fill="#ffc890"/><rect x="629.7" y="1037.14" width="52.8" height="11.29" fill="#ffce9d"/><rect x="94.9" y="1026.16" width="240.7" height="11.29" fill="#ff8000"/><rect x="335.3" y="1026.16" width="37.1" height="11.29" fill="#ff8f1e"/><rect x="372.1" y="1026.16" width="37.1" height="11.29" fill="#ffa54a"/><rect x="408.9" y="1026.16" width="73.9" height="11.29" fill="#ffba75"/><rect x="482.5" y="1026.16" width="73.9" height="11.29" fill="#ffc183"/><rect x="556.1" y="1026.16" width="37.1" height="11.29" fill="#ffc890"/><rect x="592.9" y="1026.16" width="73.9" height="11.29" fill="#ffce9d"/><rect x="666.5" y="1026.16" width="16.0" height="11.29" fill="#ffd5aa"/><rect x="94.9" y="1015.17" width="240.7" height="11.29" fill="#ff8000"/><rect x="335.3" y="1015.17" width="37.1" height="11.29" fill="#ff880f"/><rect x="372.1" y="1015.17" width="37.1" height="11.29" fill="#ffa54a"/><rect x="408.9" y="1015.17" width="73.9" height="11.29" fill="#ffba75"/><rect x="482.5" y="1015.17" width="73.9" height="11.29" fill="#ffc183"/><rect x="556.1" y="1015.17" width="37.1" height="11.29" fill="#ffc890"/><rect x="592.9" y="1015.17" width="73.9" height="11.29" fill="#ffce9d"/><rect x="666.5" y="1015.17" width="16.0" height="11.29" fill="#ffd5aa"/><rect x="94.9" y="1004.18" width="240.7" height="11.29" fill="#ff8000"/><rect x="335.3" y="1004.18" width="37.1" height="11.29" fill="#ff880f"/><rect x="372.1" y="1004.18" width="37.1" height="11.29" fill="#ffa54a"/><rect x="408.9" y="1004.18" width="37.1" height="11.29" fill="#ffba75"/><rect x="445.7" y="1004.18" width="73.9" height="11.29" fill="#ffc183"/><rect x="519.3" y="1004.18" width="37.1" height="11.29" fill="#ffc890"/><rect x="556.1" y="1004.18" width="37.1" height="11.29" fill="#ffce9d"/><rect x="592.9" y="1004.18" width="73.9" height="11.29" fill="#ffd5aa"/><rect x="666.5" y="1004.18" width="16.0" height="11.29" fill="#ffdbb7"/><rect x="94.9" y="993.19" width="277.5" height="11.29" fill="#ff8000"/><rect x="372.1" y="993.19" width="37.1" height="11.29" fill="#ffac59"/><rect x="408.9" y="993.19" width="37.1" height="11.29" fill="#ffba75"/><rect x="445.7" y="993.19" width="73.9" height="11.29" fill="#ffc183"/><rect x="519.3" y="993.19" width="37.1" height="11.29" fill="#ffc890"/><rect x="556.1" y="993.19" width="37.1" height="11.29" fill="#ffce9d"/><rect x="592.9" y="993.19" width="73.9" height="11.29" fill="#ffd5aa"/><rect x="666.5" y="993.19" width="16.0" height="11.29" fill="#ffdbb7"/><rect x="94.9" y="982.21" width="277.5" height="11.29" fill="#ff8000"/><rect x="372.1" y="982.21" width="37.1" height="11.29" fill="#ffac59"/><rect x="408.9" y="982.21" width="73.9" height="11.29" fill="#ffc183"/><rect x="482.5" y="982.21" width="37.1" height="11.29" fill="#ffc890"/><rect x="519.3" y="982.21" width="37.1" height="11.29" fill="#ffce9d"/><rect x="556.1" y="982.21" width="37.1" height="11.29" fill="#ffd5aa"/><rect x="592.9" y="982.21" width="73.9" height="11.29" fill="#ffdbb7"/><rect x="666.5" y="982.21" width="16.0" height="11.29" fill="#ffe1c3"/><rect x="94.9" y="971.22" width="240.7" height="11.29" fill="#ff8000"/><rect x="335.3" y="971.22" width="37.1" height="11.29" fill="#ff880f"/><rect x="372.1" y="971.22" width="37.1" height="11.29" fill="#ffb367"/><rect x="408.9" y="971.22" width="73.9" height="11.29" fill="#ffc183"/><rect x="482.5" y="971.22" width="37.1" height="11.29" fill="#ffc890"/><rect x="519.3" y="971.22" width="37.1" height="11.29" fill="#ffce9d"/><rect x="556.1" y="971.22" width="37.1" height="11.29" fill="#ffd5aa"/><rect x="592.9" y="971.22" width="73.9" height="11.29" fill="#ffdbb7"/><rect x="666.5" y="971.22" width="16.0" height="11.29" fill="#ffe1c3"/><rect x="94.9" y="960.23" width="240.7" height="11.29" fill="#ff8000"/><rect x="335.3" y="960.23" width="37.1" height="11.29" fill="#ff8f1e"/><rect x="372.1" y="960.23" width="37.1" height="11.29" fill="#ffb367"/><rect x="408.9" y="960.23" width="73.9" height="11.29" fill="#ffc890"/><rect x="482.5" y="960.23" width="37.1" height="11.29" fill="#ffce9d"/><rect x="519.3" y="960.23" width="37.1" height="11.29" fill="#ffd5aa"/><rect x="556.1" y="960.23" width="37.1" height="11.29" fill="#ffdbb7"/><rect x="592.9" y="960.23" width="73.9" height="11.29" fill="#ffe1c3"/><rect x="666.5" y="960.23" width="16.0" height="11.29" fill="#ffe7cf"/><rect x="94.9" y="949.24" width="240.7" height="11.29" fill="#ff8000"/><rect x="335.3" y="949.24" width="37.1" height="11.29" fill="#ff972d"/><rect x="372.1" y="949.24" width="37.1" height="11.29" fill="#ffb367"/><rect x="408.9" y="949.24" width="73.9" height="11.29" fill="#ffc890"/><rect x="482.5" y="949.24" width="37.1" height="11.29" fill="#ffce9d"/><rect x="519.3" y="949.24" width="37.1" height="11.29" fill="#ffd5aa"/><rect x="556.1" y="949.24" width="37.1" height="11.29" fill="#ffdbb7"/><rect x="592.9" y="949.24" width="37.1" height="11.29" fill="#ffe1c3"/><rect x="629.7" y="949.24" width="52.8" height="11.29" fill="#ffe7cf"/><rect x="94.9" y="938.26" width="203.9" height="11.29" fill="#ff8000"/><rect x="298.5" y="938.26" width="37.1" height="11.29" fill="#ff8f1e"/><rect x="335.3" y="938.26" width="37.1" height="11.29" fill="#ffa54a"/><rect x="372.1" y="938.26" width="37.1" height="11.29" fill="#ffb367"/><rect x="408.9" y="938.26" width="37.1" height="11.29" fill="#ffc890"/><rect x="445.7" y="938.26" width="37.1" height="11.29" fill="#ffce9d"/><rect x="482.5" y="938.26" width="37.1" height="11.29" fill="#ffd5aa"/><rect x="519.3" y="938.26" width="37.1" height="11.29" fill="#ffdbb7"/><rect x="556.1" y="938.26" width="37.1" height="11.29" fill="#ffe1c3"/><rect x="592.9" y="938.26" width="37.1" height="11.29" fill="#ffe7cf"/><rect x="629.7" y="938.26" width="52.8" height="11.29" fill="#ffedda"/><rect x="94.9" y="927.27" width="203.9" height="11.29" fill="#ff8000"/><rect x="298.5" y="927.27" width="37.1" height="11.29" fill="#ff9e3c"/><rect x="335.3" y="927.27" width="37.1" height="11.29" fill="#ffb367"/><rect x="372.1" y="927.27" width="37.1" height="11.29" fill="#ffba75"/><rect x="408.9" y="927.27" width="37.1" height="11.29" fill="#ffc890"/><rect x="445.7" y="927.27" width="37.1" height="11.29" fill="#ffce9d"/><rect x="482.5" y="927.27" width="37.1" height="11.29" fill="#ffd5aa"/><rect x="519.3" y="927.27" width="37.1" height="11.29" fill="#ffdbb7"/><rect x="556.1" y="927.27" width="37.1" height="11.29" fill="#ffe1c3"/><rect x="592.9" y="927.27" width="37.1" height="11.29" fill="#ffe7cf"/><rect x="629.7" y="927.27" width="37.1" height="11.29" fill="#ffedda"/><rect x="666.5" y="927.27" width="16.0" height="11.29" fill="#fff2e5"/><rect x="94.9" y="916.28" width="167.1" height="11.29" fill="#ff8000"/><rect x="261.7" y="916.28" width="37.1" height="11.29" fill="#ff8f1e"/><rect x="298.5" y="916.28" width="37.1" height="11.29" fill="#ffac59"/><rect x="335.3" y="916.28" width="37.1" height="11.29" fill="#ffba75"/><rect x="372.1" y="916.28" width="37.1" height="11.29" fill="#ffc890"/><rect x="408.9" y="916.28" width="37.1" height="11.29" fill="#ffd5aa"/><rect x="445.7" y="916.28" width="37.1" height="11.29" fill="#ffdbb7"/><rect x="482.5" y="916.28" width="37.1" height="11.29" fill="#ffe1c3"/><rect x="519.3" y="916.28" width="37.1" height="11.29" fill="#ffe7cf"/><rect x="556.1" y="916.28" width="37.1" height="11.29" fill="#ffedda"/><rect x="592.9" y="916.28" width="37.1" height="11.29" fill="#fff2e5"/><rect x="629.7" y="916.28" width="37.1" height="11.29" fill="#fff7ef"/><rect x="666.5" y="916.28" width="16.0" height="11.29" fill="#fffcf8"/><rect x="94.9" y="905.29" width="167.1" height="11.29" fill="#ff8000"/><rect x="261.7" y="905.29" width="37.1" height="11.29" fill="#ffa54a"/><rect x="298.5" y="905.29" width="37.1" height="11.29" fill="#ffba75"/><rect x="335.3" y="905.29" width="37.1" height="11.29" fill="#ffc890"/><rect x="372.1" y="905.29" width="37.1" height="11.29" fill="#ffce9d"/><rect x="408.9" y="905.29" width="37.1" height="11.29" fill="#ffd5aa"/><rect x="445.7" y="905.29" width="37.1" height="11.29" fill="#ffdbb7"/><rect x="482.5" y="905.29" width="37.1" height="11.29" fill="#ffe1c3"/><rect x="519.3" y="905.29" width="37.1" height="11.29" fill="#ffe7cf"/><rect x="556.1" y="905.29" width="37.1" height="11.29" fill="#ffedda"/><rect x="592.9" y="905.29" width="37.1" height="11.29" fill="#fff2e5"/><rect x="629.7" y="905.29" width="37.1" height="11.29" fill="#fff7ef"/><rect x="666.5" y="905.29" width="16.0" height="11.29" fill="#fffcf8"/><rect x="94.9" y="894.31" width="130.3" height="11.29" fill="#ff8000"/><rect x="224.9" y="894.31" width="37.1" height="11.29" fill="#ff972d"/><rect x="261.7" y="894.31" width="37.1" height="11.29" fill="#ffba75"/><rect x="298.5" y="894.31" width="37.1" height="11.29" fill="#ffc890"/><rect x="335.3" y="894.31" width="37.1" height="11.29" fill="#ffce9d"/><rect x="372.1" y="894.31" width="37.1" height="11.29" fill="#ffd5aa"/><rect x="408.9" y="894.31" width="37.1" height="11.29" fill="#ffdbb7"/><rect x="445.7" y="894.31" width="37.1" height="11.29" fill="#ffe1c3"/><rect x="482.5" y="894.31" width="37.1" height="11.29" fill="#ffe7cf"/><rect x="519.3" y="894.31" width="37.1" height="11.29" fill="#ffedda"/><rect x="556.1" y="894.31" width="37.1" height="11.29" fill="#fff2e5"/><rect x="592.9" y="894.31" width="37.1" height="11.29" fill="#fff7ef"/><rect x="629.7" y="894.31" width="37.1" height="11.29" fill="#fffcf8"/><rect x="94.9" y="883.32" width="130.3" height="11.29" fill="#ff8000"/><rect x="224.9" y="883.32" width="37.1" height="11.29" fill="#ffb367"/><rect x="261.7" y="883.32" width="37.1" height="11.29" fill="#ffc890"/><rect x="298.5" y="883.32" width="37.1" height="11.29" fill="#ffce9d"/><rect x="335.3" y="883.32" width="37.1" height="11.29" fill="#ffd5aa"/><rect x="372.1" y="883.32" width="37.1" height="11.29" fill="#ffdbb7"/><rect x="408.9" y="883.32" width="37.1" height="11.29" fill="#ffe1c3"/><rect x="445.7" y="883.32" width="37.1" height="11.29" fill="#ffe7cf"/><rect x="482.5" y="883.32" width="37.1" height="11.29" fill="#ffedda"/><rect x="519.3" y="883.32" width="37.1" height="11.29" fill="#fff2e5"/><rect x="556.1" y="883.32" width="37.1" height="11.29" fill="#fff7ef"/><rect x="592.9" y="883.32" width="37.1" height="11.29" fill="#fffcf8"/><rect x="94.9" y="872.33" width="93.5" height="11.29" fill="#ff8000"/><rect x="188.1" y="872.33" width="37.1" height="11.29" fill="#ffac59"/><rect x="224.9" y="872.33" width="37.1" height="11.29" fill="#ffc183"/><rect x="261.7" y="872.33" width="37.1" height="11.29" fill="#ffce9d"/><rect x="298.5" y="872.33" width="37.1" height="11.29" fill="#ffd5aa"/><rect x="335.3" y="872.33" width="73.9" height="11.29" fill="#ffdbb7"/><rect x="408.9" y="872.33" width="37.1" height="11.29" fill="#ffe1c3"/><rect x="445.7" y="872.33" width="37.1" height="11.29" fill="#ffedda"/><rect x="482.5" y="872.33" width="37.1" height="11.29" fill="#fff2e5"/><rect x="519.3" y="872.33" width="37.1" height="11.29" fill="#fff7ef"/><rect x="556.1" y="872.33" width="37.1" height="11.29" fill="#fffcf8"/><rect x="94.9" y="861.34" width="93.5" height="11.29" fill="#ff8000"/><rect x="188.1" y="861.34" width="37.1" height="11.29" fill="#ffba75"/><rect x="224.9" y="861.34" width="37.1" height="11.29" fill="#ffc890"/><rect x="261.7" y="861.34" width="37.1" height="11.29" fill="#ffce9d"/><rect x="298.5" y="861.34" width="37.1" height="11.29" fill="#ffdbb7"/><rect x="335.3" y="861.34" width="73.9" height="11.29" fill="#ffe1c3"/><rect x="408.9" y="861.34" width="37.1" height="11.29" fill="#ffe7cf"/><rect x="445.7" y="861.34" width="37.1" height="11.29" fill="#ffedda"/><rect x="482.5" y="861.34" width="37.1" height="11.29" fill="#fff2e5"/><rect x="519.3" y="861.34" width="37.1" height="11.29" fill="#fff7ef"/><rect x="556.1" y="861.34" width="37.1" height="11.29" fill="#fffcf8"/><rect x="94.9" y="850.36" width="93.5" height="11.29" fill="#ff8000"/><rect x="188.1" y="850.36" width="37.1" height="11.29" fill="#ffc183"/><rect x="224.9" y="850.36" width="37.1" height="11.29" fill="#ffce9d"/><rect x="261.7" y="850.36" width="37.1" height="11.29" fill="#ffd5aa"/><rect x="298.5" y="850.36" width="37.1" height="11.29" fill="#ffe1c3"/><rect x="335.3" y="850.36" width="73.9" height="11.29" fill="#ffe7cf"/><rect x="408.9" y="850.36" width="37.1" height="11.29" fill="#ffedda"/><rect x="445.7" y="850.36" width="37.1" height="11.29" fill="#fff2e5"/><rect x="482.5" y="850.36" width="37.1" height="11.29" fill="#fff7ef"/><rect x="519.3" y="850.36" width="37.1" height="11.29" fill="#fffcf8"/><rect x="94.9" y="839.37" width="93.5" height="11.29" fill="#ff8000"/><rect x="188.1" y="839.37" width="37.1" height="11.29" fill="#ffc183"/><rect x="224.9" y="839.37" width="37.1" height="11.29" fill="#ffce9d"/><rect x="261.7" y="839.37" width="37.1" height="11.29" fill="#ffd5aa"/><rect x="298.5" y="839.37" width="37.1" height="11.29" fill="#ffe1c3"/><rect x="335.3" y="839.37" width="73.9" height="11.29" fill="#ffedda"/><rect x="408.9" y="839.37" width="37.1" height="11.29" fill="#fff2e5"/><rect x="445.7" y="839.37" width="37.1" height="11.29" fill="#fff7ef"/><rect x="482.5" y="839.37" width="37.1" height="11.29" fill="#fffcf8"/><rect x="94.9" y="828.38" width="93.5" height="11.29" fill="#ff8000"/><rect x="188.1" y="828.38" width="37.1" height="11.29" fill="#ffb367"/><rect x="224.9" y="828.38" width="37.1" height="11.29" fill="#ffce9d"/><rect x="261.7" y="828.38" width="37.1" height="11.29" fill="#ffd5aa"/><rect x="298.5" y="828.38" width="37.1" height="11.29" fill="#ffe1c3"/><rect x="335.3" y="828.38" width="37.1" height="11.29" fill="#ffedda"/><rect x="372.1" y="828.38" width="37.1" height="11.29" fill="#fff2e5"/><rect x="408.9" y="828.38" width="73.9" height="11.29" fill="#fff7ef"/><rect x="482.5" y="828.38" width="37.1" height="11.29" fill="#fffcf8"/><rect x="94.9" y="817.39" width="93.5" height="11.29" fill="#ff8000"/><rect x="188.1" y="817.39" width="37.1" height="11.29" fill="#ff9e3c"/><rect x="224.9" y="817.39" width="37.1" height="11.29" fill="#ffc183"/><rect x="261.7" y="817.39" width="37.1" height="11.29" fill="#ffd5aa"/><rect x="298.5" y="817.39" width="37.1" height="11.29" fill="#ffe1c3"/><rect x="335.3" y="817.39" width="37.1" height="11.29" fill="#ffedda"/><rect x="372.1" y="817.39" width="37.1" height="11.29" fill="#fff2e5"/><rect x="408.9" y="817.39" width="37.1" height="11.29" fill="#fff7ef"/><rect x="445.7" y="817.39" width="37.1" height="11.29" fill="#fffcf8"/><rect x="94.9" y="806.41" width="130.3" height="11.29" fill="#ff8000"/><rect x="224.9" y="806.41" width="37.1" height="11.29" fill="#ffb367"/><rect x="261.7" y="806.41" width="37.1" height="11.29" fill="#ffd5aa"/><rect x="298.5" y="806.41" width="37.1" height="11.29" fill="#ffe1c3"/><rect x="335.3" y="806.41" width="37.1" height="11.29" fill="#ffedda"/><rect x="372.1" y="806.41" width="37.1" height="11.29" fill="#fff2e5"/><rect x="408.9" y="806.41" width="37.1" height="11.29" fill="#fff7ef"/><rect x="445.7" y="806.41" width="37.1" height="11.29" fill="#fffcf8"/><rect x="94.9" y="795.42" width="130.3" height="11.29" fill="#ff8000"/><rect x="224.9" y="795.42" width="37.1" height="11.29" fill="#ffac59"/><rect x="261.7" y="795.42" width="37.1" height="11.29" fill="#ffce9d"/><rect x="298.5" y="795.42" width="37.1" height="11.29" fill="#ffe1c3"/><rect x="335.3" y="795.42" width="37.1" height="11.29" fill="#ffedda"/><rect x="372.1" y="795.42" width="37.1" height="11.29" fill="#fff2e5"/><rect x="408.9" y="795.42" width="37.1" height="11.29" fill="#fff7ef"/><rect x="445.7" y="795.42" width="37.1" height="11.29" fill="#fffcf8"/><rect x="94.9" y="784.43" width="130.3" height="11.29" fill="#ff8000"/><rect x="224.9" y="784.43" width="37.1" height="11.29" fill="#ff9e3c"/><rect x="261.7" y="784.43" width="37.1" height="11.29" fill="#ffc890"/><rect x="298.5" y="784.43" width="37.1" height="11.29" fill="#ffe1c3"/><rect x="335.3" y="784.43" width="37.1" height="11.29" fill="#ffedda"/><rect x="372.1" y="784.43" width="37.1" height="11.29" fill="#fff2e5"/><rect x="408.9" y="784.43" width="37.1" height="11.29" fill="#fff7ef"/><rect x="445.7" y="784.43" width="37.1" height="11.29" fill="#fffcf8"/><rect x="94.9" y="773.44" width="167.1" height="11.29" fill="#ff8000"/><rect x="261.7" y="773.44" width="37.1" height="11.29" fill="#ffc890"/><rect x="298.5" y="773.44" width="37.1" height="11.29" fill="#ffe1c3"/><rect x="335.3" y="773.44" width="37.1" height="11.29" fill="#ffedda"/><rect x="372.1" y="773.44" width="37.1" height="11.29" fill="#fff2e5"/><rect x="408.9" y="773.44" width="37.1" height="11.29" fill="#fff7ef"/><rect x="445.7" y="773.44" width="37.1" height="11.29" fill="#fffcf8"/><rect x="94.9" y="762.46" width="167.1" height="11.29" fill="#ff8000"/><rect x="261.7" y="762.46" width="37.1" height="11.29" fill="#ffc890"/><rect x="298.5" y="762.46" width="37.1" height="11.29" fill="#ffe1c3"/><rect x="335.3" y="762.46" width="37.1" height="11.29" fill="#ffedda"/><rect x="372.1" y="762.46" width="37.1" height="11.29" fill="#fff2e5"/><rect x="408.9" y="762.46" width="37.1" height="11.29" fill="#fff7ef"/><rect x="445.7" y="762.46" width="37.1" height="11.29" fill="#fffcf8"/><rect x="94.9" y="751.47" width="167.1" height="11.29" fill="#ff8000"/><rect x="261.7" y="751.47" width="37.1" height="11.29" fill="#ffc890"/><rect x="298.5" y="751.47" width="37.1" height="11.29" fill="#ffe1c3"/><rect x="335.3" y="751.47" width="37.1" height="11.29" fill="#ffedda"/><rect x="372.1" y="751.47" width="37.1" height="11.29" fill="#fff2e5"/><rect x="408.9" y="751.47" width="37.1" height="11.29" fill="#fff7ef"/><rect x="445.7" y="751.47" width="37.1" height="11.29" fill="#fffcf8"/><rect x="94.9" y="740.48" width="167.1" height="11.29" fill="#ff8000"/><rect x="261.7" y="740.48" width="37.1" height="11.29" fill="#ffc890"/><rect x="298.5" y="740.48" width="37.1" height="11.29" fill="#ffe1c3"/><rect x="335.3" y="740.48" width="37.1" height="11.29" fill="#ffedda"/><rect x="372.1" y="740.48" width="37.1" height="11.29" fill="#fff2e5"/><rect x="408.9" y="740.48" width="37.1" height="11.29" fill="#fff7ef"/><rect x="445.7" y="740.48" width="37.1" height="11.29" fill="#fffcf8"/><rect x="94.9" y="729.49" width="167.1" height="11.29" fill="#ff8000"/><rect x="261.7" y="729.49" width="37.1" height="11.29" fill="#ffc890"/><rect x="298.5" y="729.49" width="37.1" height="11.29" fill="#ffe1c3"/><rect x="335.3" y="729.49" width="37.1" height="11.29" fill="#ffedda"/><rect x="372.1" y="729.49" width="37.1" height="11.29" fill="#fff2e5"/><rect x="408.9" y="729.49" width="37.1" height="11.29" fill="#fff7ef"/><rect x="445.7" y="729.49" width="37.1" height="11.29" fill="#fffcf8"/><rect x="94.9" y="718.51" width="130.3" height="11.29" fill="#ff8000"/><rect x="224.9" y="718.51" width="37.1" height="11.29" fill="#ff9e3c"/><rect x="261.7" y="718.51" width="37.1" height="11.29" fill="#ffd5aa"/><rect x="298.5" y="718.51" width="37.1" height="11.29" fill="#ffe7cf"/><rect x="335.3" y="718.51" width="37.1" height="11.29" fill="#ffedda"/><rect x="372.1" y="718.51" width="37.1" height="11.29" fill="#fff2e5"/><rect x="408.9" y="718.51" width="37.1" height="11.29" fill="#fff7ef"/><rect x="445.7" y="718.51" width="37.1" height="11.29" fill="#fffcf8"/><rect x="94.9" y="707.52" width="130.3" height="11.29" fill="#ff8000"/><rect x="224.9" y="707.52" width="37.1" height="11.29" fill="#ffb367"/><rect x="261.7" y="707.52" width="37.1" height="11.29" fill="#ffd5aa"/><rect x="298.5" y="707.52" width="37.1" height="11.29" fill="#ffe7cf"/><rect x="335.3" y="707.52" width="37.1" height="11.29" fill="#ffedda"/><rect x="372.1" y="707.52" width="37.1" height="11.29" fill="#fff2e5"/><rect x="408.9" y="707.52" width="37.1" height="11.29" fill="#fff7ef"/><rect x="445.7" y="707.52" width="37.1" height="11.29" fill="#fffcf8"/><rect x="94.9" y="696.53" width="130.3" height="11.29" fill="#ff8000"/><rect x="224.9" y="696.53" width="37.1" height="11.29" fill="#ffc890"/><rect x="261.7" y="696.53" width="37.1" height="11.29" fill="#ffdbb7"/><rect x="298.5" y="696.53" width="37.1" height="11.29" fill="#ffe7cf"/><rect x="335.3" y="696.53" width="37.1" height="11.29" fill="#ffedda"/><rect x="372.1" y="696.53" width="37.1" height="11.29" fill="#fff2e5"/><rect x="408.9" y="696.53" width="37.1" height="11.29" fill="#fff7ef"/><rect x="445.7" y="696.53" width="37.1" height="11.29" fill="#fffcf8"/><rect x="94.9" y="685.54" width="130.3" height="11.29" fill="#ff8000"/><rect x="224.9" y="685.54" width="37.1" height="11.29" fill="#ffce9d"/><rect x="261.7" y="685.54" width="37.1" height="11.29" fill="#ffdbb7"/><rect x="298.5" y="685.54" width="37.1" height="11.29" fill="#ffe7cf"/><rect x="335.3" y="685.54" width="37.1" height="11.29" fill="#ffedda"/><rect x="372.1" y="685.54" width="37.1" height="11.29" fill="#fff2e5"/><rect x="408.9" y="685.54" width="37.1" height="11.29" fill="#fff7ef"/><rect x="445.7" y="685.54" width="37.1" height="11.29" fill="#fffcf8"/><rect x="94.9" y="674.56" width="93.5" height="11.29" fill="#ff8000"/><rect x="188.1" y="674.56" width="37.1" height="11.29" fill="#ffc890"/><rect x="224.9" y="674.56" width="37.1" height="11.29" fill="#ffdbb7"/><rect x="261.7" y="674.56" width="37.1" height="11.29" fill="#ffe1c3"/><rect x="298.5" y="674.56" width="37.1" height="11.29" fill="#ffe7cf"/><rect x="335.3" y="674.56" width="37.1" height="11.29" fill="#ffedda"/><rect x="372.1" y="674.56" width="37.1" height="11.29" fill="#fff2e5"/><rect x="408.9" y="674.56" width="37.1" height="11.29" fill="#fff7ef"/><rect x="445.7" y="674.56" width="37.1" height="11.29" fill="#fffcf8"/><rect x="94.9" y="663.57" width="93.5" height="11.29" fill="#ff8000"/><rect x="188.1" y="663.57" width="37.1" height="11.29" fill="#ffce9d"/><rect x="224.9" y="663.57" width="37.1" height="11.29" fill="#ffdbb7"/><rect x="261.7" y="663.57" width="37.1" height="11.29" fill="#ffe1c3"/><rect x="298.5" y="663.57" width="37.1" height="11.29" fill="#ffe7cf"/><rect x="335.3" y="663.57" width="37.1" height="11.29" fill="#ffedda"/><rect x="372.1" y="663.57" width="37.1" height="11.29" fill="#fff2e5"/><rect x="408.9" y="663.57" width="37.1" height="11.29" fill="#fff7ef"/><rect x="445.7" y="663.57" width="37.1" height="11.29" fill="#fffcf8"/><rect x="94.9" y="652.58" width="93.5" height="11.29" fill="#ff8000"/><rect x="188.1" y="652.58" width="37.1" height="11.29" fill="#ffd5aa"/><rect x="224.9" y="652.58" width="37.1" height="11.29" fill="#ffdbb7"/><rect x="261.7" y="652.58" width="37.1" height="11.29" fill="#ffe1c3"/><rect x="298.5" y="652.58" width="37.1" height="11.29" fill="#ffe7cf"/><rect x="335.3" y="652.58" width="37.1" height="11.29" fill="#ffedda"/><rect x="372.1" y="652.58" width="37.1" height="11.29" fill="#fff2e5"/><rect x="408.9" y="652.58" width="37.1" height="11.29" fill="#fff7ef"/><rect x="445.7" y="652.58" width="73.9" height="11.29" fill="#fffcf8"/><rect x="94.9" y="641.59" width="56.7" height="11.29" fill="#ff8000"/><rect x="151.3" y="641.59" width="37.1" height="11.29" fill="#ffc890"/><rect x="188.1" y="641.59" width="37.1" height="11.29" fill="#ffdbb7"/><rect x="224.9" y="641.59" width="73.9" height="11.29" fill="#ffe1c3"/><rect x="298.5" y="641.59" width="37.1" height="11.29" fill="#ffe7cf"/><rect x="335.3" y="641.59" width="37.1" height="11.29" fill="#ffedda"/><rect x="372.1" y="641.59" width="37.1" height="11.29" fill="#fff2e5"/><rect x="408.9" y="641.59" width="37.1" height="11.29" fill="#fff7ef"/><rect x="445.7" y="641.59" width="110.7" height="11.29" fill="#fffcf8"/><rect x="94.9" y="636.10" width="56.7" height="5.79" fill="#ff8000"/><rect x="151.3" y="636.10" width="37.1" height="5.79" fill="#ffc890"/><rect x="188.1" y="636.10" width="37.1" height="5.79" fill="#ffdbb7"/><rect x="224.9" y="636.10" width="37.1" height="5.79" fill="#ffe1c3"/><rect x="261.7" y="636.10" width="73.9" height="5.79" fill="#ffe7cf"/><rect x="335.3" y="636.10" width="37.1" height="5.79" fill="#ffedda"/><rect x="372.1" y="636.10" width="37.1" height="5.79" fill="#fff2e5"/><rect x="408.9" y="636.10" width="37.1" height="5.79" fill="#fff7ef"/><rect x="445.7" y="636.10" width="110.7" height="5.79" fill="#fffcf8"/></g><g stroke="#000"><line x1="94.90" y1="1075.6" x2="94.90" y2="1066.6" stroke-width="2"/><line x1="94.90" y1="636.1" x2="94.90" y2="645.1" stroke-width="2"/><line x1="124.27" y1="1075.6" x2="124.27" y2="1072.3999999999999" stroke-width="2"/><line x1="124.27" y1="636.1" x2="124.27" y2="639.3000000000001" stroke-width="2"/><line x1="153.63" y1="1075.6" x2="153.63" y2="1072.3999999999999" stroke-width="2"/><line x1="153.63" y1="636.1" x2="153.63" y2="639.3000000000001" stroke-width="2"/><line x1="183.00" y1="1075.6" x2="183.00" y2="1072.3999999999999" stroke-width="2"/><line x1="183.00" y1="636.1" x2="183.00" y2="639.3000000000001" stroke-width="2"/><line x1="212.36" y1="1075.6" x2="212.36" y2="1072.3999999999999" stroke-width="2"/><line x1="212.36" y1="636.1" x2="212.36" y2="639.3000000000001" stroke-width="2"/><line x1="241.72" y1="1075.6" x2="241.72" y2="1066.6" stroke-width="2"/><line x1="241.72" y1="636.1" x2="241.72" y2="645.1" stroke-width="2"/><line x1="271.09" y1="1075.6" x2="271.09" y2="1072.3999999999999" stroke-width="2"/><line x1="271.09" y1="636.1" x2="271.09" y2="639.3000000000001" stroke-width="2"/><line x1="300.45" y1="1075.6" x2="300.45" y2="1072.3999999999999" stroke-width="2"/><line x1="300.45" y1="636.1" x2="300.45" y2="639.3000000000001" stroke-width="2"/><line x1="329.82" y1="1075.6" x2="329.82" y2="1072.3999999999999" stroke-width="2"/><line x1="329.82" y1="636.1" x2="329.82" y2="639.3000000000001" stroke-width="2"/><line x1="359.18" y1="1075.6" x2="359.18" y2="1072.3999999999999" stroke-width="2"/><line x1="359.18" y1="636.1" x2="359.18" y2="639.3000000000001" stroke-width="2"/><line x1="388.55" y1="1075.6" x2="388.55" y2="1066.6" stroke-width="2"/><line x1="388.55" y1="636.1" x2="388.55" y2="645.1" stroke-width="2"/><line x1="417.91" y1="1075.6" x2="417.91" y2="1072.3999999999999" stroke-width="2"/><line x1="417.91" y1="636.1" x2="417.91" y2="639.3000000000001" stroke-width="2"/><line x1="447.28" y1="1075.6" x2="447.28" y2="1072.3999999999999" stroke-width="2"/><line x1="447.28" y1="636.1" x2="447.28" y2="639.3000000000001" stroke-width="2"/><line x1="476.64" y1="1075.6" x2="476.64" y2="1072.3999999999999" stroke-width="2"/><line x1="476.64" y1="636.1" x2="476.64" y2="639.3000000000001" stroke-width="2"/><line x1="506.01" y1="1075.6" x2="506.01" y2="1072.3999999999999" stroke-width="2"/><line x1="506.01" y1="636.1" x2="506.01" y2="639.3000000000001" stroke-width="2"/><line x1="535.38" y1="1075.6" x2="535.38" y2="1066.6" stroke-width="2"/><line x1="535.38" y1="636.1" x2="535.38" y2="645.1" stroke-width="2"/><line x1="564.74" y1="1075.6" x2="564.74" y2="1072.3999999999999" stroke-width="2"/><line x1="564.74" y1="636.1" x2="564.74" y2="639.3000000000001" stroke-width="2"/><line x1="594.10" y1="1075.6" x2="594.10" y2="1072.3999999999999" stroke-width="2"/><line x1="594.10" y1="636.1" x2="594.10" y2="639.3000000000001" stroke-width="2"/><line x1="623.47" y1="1075.6" x2="623.47" y2="1072.3999999999999" stroke-width="2"/><line x1="623.47" y1="636.1" x2="623.47" y2="639.3000000000001" stroke-width="2"/><line x1="652.83" y1="1075.6" x2="652.83" y2="1072.3999999999999" stroke-width="2"/><line x1="652.83" y1="636.1" x2="652.83" y2="639.3000000000001" stroke-width="2"/><line x1="682.20" y1="1075.6" x2="682.20" y2="1066.6" stroke-width="2"/><line x1="682.20" y1="636.1" x2="682.20" y2="645.1" stroke-width="2"/><line x1="94.9" y1="1075.60" x2="103.9" y2="1075.60" stroke-width="2"/><line x1="682.1999999999999" y1="1075.60" x2="673.1999999999999" y2="1075.60" stroke-width="2"/><line x1="94.9" y1="1053.62" x2="98.10000000000001" y2="1053.62" stroke-width="2"/><line x1="682.1999999999999" y1="1053.62" x2="678.9999999999999" y2="1053.62" stroke-width="2"/><line x1="94.9" y1="1031.65" x2="98.10000000000001" y2="1031.65" stroke-width="2"/><line x1="682.1999999999999" y1="1031.65" x2="678.9999999999999" y2="1031.65" stroke-width="2"/><line x1="94.9" y1="1009.67" x2="98.10000000000001" y2="1009.67" stroke-width="2"/><line x1="682.1999999999999" y1="1009.67" x2="678.9999999999999" y2="1009.67" stroke-width="2"/><line x1="94.9" y1="987.70" x2="98.10000000000001" y2="987.70" stroke-width="2"/><line x1="682.1999999999999" y1="987.70" x2="678.9999999999999" y2="987.70" stroke-width="2"/><line x1="94.9" y1="965.72" x2="103.9" y2="965.72" stroke-width="2"/><line x1="682.1999999999999" y1="965.72" x2="673.1999999999999" y2="965.72" stroke-width="2"/><line x1="94.9" y1="943.75" x2="98.10000000000001" y2="943.75" stroke-width="2"/><line x1="682.1999999999999" y1="943.75" x2="678.9999999999999" y2="943.75" stroke-width="2"/><line x1="94.9" y1="921.77" x2="98.10000000000001" y2="921.77" stroke-width="2"/><line x1="682.1999999999999" y1="921.77" x2="678.9999999999999" y2="921.77" stroke-width="2"/><line x1="94.9" y1="899.80" x2="98.10000000000001" y2="899.80" stroke-width="2"/><line x1="682.1999999999999" y1="899.80" x2="678.9999999999999" y2="899.80" stroke-width="2"/><line x1="94.9" y1="877.82" x2="98.10000000000001" y2="877.82" stroke-width="2"/><line x1="682.1999999999999" y1="877.82" x2="678.9999999999999" y2="877.82" stroke-width="2"/><line x1="94.9" y1="855.85" x2="103.9" y2="855.85" stroke-width="2"/><line x1="682.1999999999999" y1="855.85" x2="673.1999999999999" y2="855.85" stroke-width="2"/><line x1="94.9" y1="833.87" x2="98.10000000000001" y2="833.87" stroke-width="2"/><line x1="682.1999999999999" y1="833.87" x2="678.9999999999999" y2="833.87" stroke-width="2"/><line x1="94.9" y1="811.90" x2="98.10000000000001" y2="811.90" stroke-width="2"/><line x1="682.1999999999999" y1="811.90" x2="678.9999999999999" y2="811.90" stroke-width="2"/><line x1="94.9" y1="789.92" x2="98.10000000000001" y2="789.92" stroke-width="2"/><line x1="682.1999999999999" y1="789.92" x2="678.9999999999999" y2="789.92" stroke-width="2"/><line x1="94.9" y1="767.95" x2="98.10000000000001" y2="767.95" stroke-width="2"/><line x1="682.1999999999999" y1="767.95" x2="678.9999999999999" y2="767.95" stroke-width="2"/><line x1="94.9" y1="745.97" x2="103.9" y2="745.97" stroke-width="2"/><line x1="682.1999999999999" y1="745.97" x2="673.1999999999999" y2="745.97" stroke-width="2"/><line x1="94.9" y1="724.00" x2="98.10000000000001" y2="724.00" stroke-width="2"/><line x1="682.1999999999999" y1="724.00" x2="678.9999999999999" y2="724.00" stroke-width="2"/><line x1="94.9" y1="702.02" x2="98.10000000000001" y2="702.02" stroke-width="2"/><line x1="682.1999999999999" y1="702.02" x2="678.9999999999999" y2="702.02" stroke-width="2"/><line x1="94.9" y1="680.05" x2="98.10000000000001" y2="680.05" stroke-width="2"/><line x1="682.1999999999999" y1="680.05" x2="678.9999999999999" y2="680.05" stroke-width="2"/><line x1="94.9" y1="658.07" x2="98.10000000000001" y2="658.07" stroke-width="2"/><line x1="682.1999999999999" y1="658.07" x2="678.9999999999999" y2="658.07" stroke-width="2"/><line x1="94.9" y1="636.10" x2="103.9" y2="636.10" stroke-width="2"/><line x1="682.1999999999999" y1="636.10" x2="673.1999999999999" y2="636.10" stroke-width="2"/></g><rect x="94.9" y="636.1" width="587.3" height="439.5" fill="none" stroke="#000" stroke-width="2.2"/><text x="94.90" y="1114.6" font-size="31" text-anchor="middle">0</text><text x="241.72" y="1114.6" font-size="31" text-anchor="middle">0.02</text><text x="388.55" y="1114.6" font-size="31" text-anchor="middle">0.04</text><text x="535.38" y="1114.6" font-size="31" text-anchor="middle">0.06</text><text x="682.20" y="1114.6" font-size="31" text-anchor="middle">0.08</text><text x="83.9" y="1086.10" font-size="31" text-anchor="end">0</text><text x="83.9" y="976.22" font-size="31" text-anchor="end">0.5</text><text x="83.9" y="866.35" font-size="31" text-anchor="end">1</text><text x="83.9" y="756.47" font-size="31" text-anchor="end">1.5</text><text x="83.9" y="646.60" font-size="31" text-anchor="end">2</text><text x="398.54999999999995" y="1165.1999999999998" font-size="42.5" text-anchor="middle">t/U</text><text transform="translate(27.900000000000006,854.8499999999999) rotate(-90)" font-size="41" text-anchor="middle">μ/U</text><text x="388.54999999999995" y="619.2" font-size="32" text-anchor="middle">T/U=0.1</text><text x="660.6999999999999" y="706.6" font-size="50.5" text-anchor="end">(c)</text><g shape-rendering="crispEdges"><rect x="815.6" y="1070.11" width="277.5" height="5.79" fill="#ff8000"/><rect x="1092.8" y="1070.11" width="37.1" height="5.79" fill="#ff9e3c"/><rect x="1129.6" y="1070.11" width="37.1" height="5.79" fill="#ffac59"/><rect x="1166.4" y="1070.11" width="73.9" height="5.79" fill="#ffba75"/><rect x="1240.0" y="1070.11" width="73.9" height="5.79" fill="#ffc183"/><rect x="1313.6" y="1070.11" width="37.1" height="5.79" fill="#ffc890"/><rect x="1350.4" y="1070.11" width="52.8" height="5.79" fill="#ffce9d"/><rect x="815.6" y="1059.12" width="277.5" height="11.29" fill="#ff8000"/><rect x="1092.8" y="1059.12" width="37.1" height="11.29" fill="#ff9e3c"/><rect x="1129.6" y="1059.12" width="37.1" height="11.29" fill="#ffac59"/><rect x="1166.4" y="1059.12" width="73.9" height="11.29" fill="#ffba75"/><rect x="1240.0" y="1059.12" width="73.9" height="11.29" fill="#ffc183"/><rect x="1313.6" y="1059.12" width="37.1" height="11.29" fill="#ffc890"/><rect x="1350.4" y="1059.12" width="52.8" height="11.29" fill="#ffce9d"/><rect x="815.6" y="1048.13" width="277.5" height="11.29" fill="#ff8000"/><rect x="1092.8" y="1048.13" width="37.1" height="11.29" fill="#ff9e3c"/><rect x="1129.6" y="1048.13" width="37.1" height="11.29" fill="#ffac59"/><rect x="1166.4" y="1048.13" width="73.9" height="11.29" fill="#ffba75"/><rect x="1240.0" y="1048.13" width="73.9" height="11.29" fill="#ffc183"/><rect x="1313.6" y="1048.13" width="37.1" height="11.29" fill="#ffc890"/><rect x="1350.4" y="1048.13" width="52.8" height="11.29" fill="#ffce9d"/><rect x="815.6" y="1037.14" width="277.5" height="11.29" fill="#ff8000"/><rect x="1092.8" y="1037.14" width="37.1" height="11.29" fill="#ff9e3c"/><rect x="1129.6" y="1037.14" width="37.1" height="11.29" fill="#ffac59"/><rect x="1166.4" y="1037.14" width="73.9" height="11.29" fill="#ffba75"/><rect x="1240.0" y="1037.14" width="73.9" height="11.29" fill="#ffc183"/><rect x="1313.6" y="1037.14" width="37.1" height="11.29" fill="#ffc890"/><rect x="1350.4" y="1037.14" width="52.8" height="11.29" fill="#ffce9d"/><rect x="815.6" y="1026.16" width="277.5" height="11.29" fill="#ff8000"/><rect x="1092.8" y="1026.16" width="37.1" height="11.29" fill="#ff9e3c"/><rect x="1129.6" y="1026.16" width="37.1" height="11.29" fill="#ffac59"/><rect x="1166.4" y="1026.16" width="37.1" height="11.29" fill="#ffba75"/><rect x="1203.2" y="1026.16" width="73.9" height="11.29" fill="#ffc183"/><rect x="1276.8" y="1026.16" width="37.1" height="11.29" fill="#ffc890"/><rect x="1313.6" y="1026.16" width="73.9" height="11.29" fill="#ffce9d"/><rect x="1387.2" y="1026.16" width="16.0" height="11.29" fill="#ffd5aa"/><rect x="815.6" y="1015.17" width="277.5" height="11.29" fill="#ff8000"/><rect x="1092.8" y="1015.17" width="37.1" height="11.29" fill="#ff9e3c"/><rect x="1129.6" y="1015.17" width="37.1" height="11.29" fill="#ffac59"/><rect x="1166.4" y="1015.17" width="37.1" height="11.29" fill="#ffba75"/><rect x="1203.2" y="1015.17" width="73.9" height="11.29" fill="#ffc183"/><rect x="1276.8" y="1015.17" width="37.1" height="11.29" fill="#ffc890"/><rect x="1313.6" y="1015.17" width="73.9" height="11.29" fill="#ffce9d"/><rect x="1387.2" y="1015.17" width="16.0" height="11.29" fill="#ffd5aa"/><rect x="815.6" y="1004.18" width="277.5" height="11.29" fill="#ff8000"/><rect x="1092.8" y="1004.18" width="37.1" height="11.29" fill="#ff9e3c"/><rect x="1129.6" y="1004.18" width="37.1" height="11.29" fill="#ffac59"/><rect x="1166.4" y="1004.18" width="73.9" height="11.29" fill="#ffc183"/><rect x="1240.0" y="1004.18" width="37.1" height="11.29" fill="#ffc890"/><rect x="1276.8" y="1004.18" width="37.1" height="11.29" fill="#ffce9d"/><rect x="1313.6" y="1004.18" width="73.9" height="11.29" fill="#ffd5aa"/><rect x="1387.2" y="1004.18" width="16.0" height="11.29" fill="#ffdbb7"/><rect x="815.6" y="993.19" width="277.5" height="11.29" fill="#ff8000"/><rect x="1092.8" y="993.19" width="37.1" height="11.29" fill="#ffa54a"/><rect x="1129.6" y="993.19" width="37.1" height="11.29" fill="#ffac59"/><rect x="1166.4" y="993.19" width="73.9" height="11.29" fill="#ffc183"/><rect x="1240.0" y="993.19" width="37.1" height="11.29" fill="#ffc890"/><rect x="1276.8" y="993.19" width="37.1" height="11.29" fill="#ffce9d"/><rect x="1313.6" y="993.19" width="73.9" height="11.29" fill="#ffd5aa"/><rect x="1387.2" y="993.19" width="16.0" height="11.29" fill="#ffdbb7"/><rect x="815.6" y="982.21" width="277.5" height="11.29" fill="#ff8000"/><rect x="1092.8" y="982.21" width="37.1" height="11.29" fill="#ffa54a"/><rect x="1129.6" y="982.21" width="37.1" height="11.29" fill="#ffba75"/><rect x="1166.4" y="982.21" width="37.1" height="11.29" fill="#ffc183"/><rect x="1203.2" y="982.21" width="37.1" height="11.29" fill="#ffc890"/><rect x="1240.0" y="982.21" width="37.1" height="11.29" fill="#ffce9d"/><rect x="1276.8" y="982.21" width="37.1" height="11.29" fill="#ffd5aa"/><rect x="1313.6" y="982.21" width="73.9" height="11.29" fill="#ffdbb7"/><rect x="1387.2" y="982.21" width="16.0" height="11.29" fill="#ffe1c3"/><rect x="815.6" y="971.22" width="277.5" height="11.29" fill="#ff8000"/><rect x="1092.8" y="971.22" width="37.1" height="11.29" fill="#ffac59"/><rect x="1129.6" y="971.22" width="37.1" height="11.29" fill="#ffba75"/><rect x="1166.4" y="971.22" width="37.1" height="11.29" fill="#ffc183"/><rect x="1203.2" y="971.22" width="37.1" height="11.29" fill="#ffc890"/><rect x="1240.0" y="971.22" width="37.1" height="11.29" fill="#ffce9d"/><rect x="1276.8" y="971.22" width="37.1" height="11.29" fill="#ffd5aa"/><rect x="1313.6" y="971.22" width="73.9" height="11.29" fill="#ffdbb7"/><rect x="1387.2" y="971.22" width="16.0" height="11.29" fill="#ffe1c3"/><rect x="815.6" y="960.23" width="240.7" height="11.29" fill="#ff8000"/><rect x="1056.0" y="960.23" width="37.1" height="11.29" fill="#ff880f"/><rect x="1092.8" y="960.23" width="37.1" height="11.29" fill="#ffac59"/><rect x="1129.6" y="960.23" width="37.1" height="11.29" fill="#ffc183"/><rect x="1166.4" y="960.23" width="37.1" height="11.29" fill="#ffc890"/><rect x="1203.2" y="960.23" width="37.1" height="11.29" fill="#ffce9d"/><rect x="1240.0" y="960.23" width="37.1" height="11.29" fill="#ffd5aa"/><rect x="1276.8" y="960.23" width="37.1" height="11.29" fill="#ffdbb7"/><rect x="1313.6" y="960.23" width="73.9" height="11.29" fill="#ffe1c3"/><rect x="1387.2" y="960.23" width="16.0" height="11.29" fill="#ffe7cf"/><rect x="815.6" y="949.24" width="240.7" height="11.29" fill="#ff8000"/><rect x="1056.0" y="949.24" width="37.1" height="11.29" fill="#ff972d"/><rect x="1092.8" y="949.24" width="37.1" height="11.29" fill="#ffb367"/><rect x="1129.6" y="949.24" width="37.1" height="11.29" fill="#ffc183"/><rect x="1166.4" y="949.24" width="37.1" height="11.29" fill="#ffc890"/><rect x="1203.2" y="949.24" width="37.1" height="11.29" fill="#ffce9d"/><rect x="1240.0" y="949.24" width="37.1" height="11.29" fill="#ffd5aa"/><rect x="1276.8" y="949.24" width="37.1" height="11.29" fill="#ffdbb7"/><rect x="1313.6" y="949.24" width="37.1" height="11.29" fill="#ffe1c3"/><rect x="1350.4" y="949.24" width="52.8" height="11.29" fill="#ffe7cf"/><rect x="815.6" y="938.26" width="240.7" height="11.29" fill="#ff8000"/><rect x="1056.0" y="938.26" width="37.1" height="11.29" fill="#ffa54a"/><rect x="1092.8" y="938.26" width="37.1" height="11.29" fill="#ffb367"/><rect x="1129.6" y="938.26" width="37.1" height="11.29" fill="#ffc890"/><rect x="1166.4" y="938.26" width="37.1" height="11.29" fill="#ffce9d"/><rect x="1203.2" y="938.26" width="37.1" height="11.29" fill="#ffd5aa"/><rect x="1240.0" y="938.26" width="37.1" height="11.29" fill="#ffdbb7"/><rect x="1276.8" y="938.26" width="37.1" height="11.29" fill="#ffe1c3"/><rect x="1313.6" y="938.26" width="37.1" height="11.29" fill="#ffe7cf"/><rect x="1350.4" y="938.26" width="52.8" height="11.29" fill="#ffedda"/><rect x="815.6" y="927.27" width="203.9" height="11.29" fill="#ff8000"/><rect x="1019.2" y="927.27" width="37.1" height="11.29" fill="#ff8f1e"/><rect x="1056.0" y="927.27" width="37.1" height="11.29" fill="#ffac59"/><rect x="1092.8" y="927.27" width="37.1" height="11.29" fill="#ffba75"/><rect x="1129.6" y="927.27" width="37.1" height="11.29" fill="#ffc890"/><rect x="1166.4" y="927.27" width="37.1" height="11.29" fill="#ffce9d"/><rect x="1203.2" y="927.27" width="37.1" height="11.29" fill="#ffd5aa"/><rect x="1240.0" y="927.27" width="37.1" height="11.29" fill="#ffdbb7"/><rect x="1276.8" y="927.27" width="37.1" height="11.29" fill="#ffe1c3"/><rect x="1313.6" y="927.27" width="37.1" height="11.29" fill="#ffe7cf"/><rect x="1350.4" y="927.27" width="37.1" height="11.29" fill="#ffedda"/><rect x="1387.2" y="927.27" width="16.0" height="11.29" fill="#fff2e5"/><rect x="815.6" y="916.28" width="203.9" height="11.29" fill="#ff8000"/><rect x="1019.2" y="916.28" width="37.1" height="11.29" fill="#ff9e3c"/><rect x="1056.0" y="916.28" width="37.1" height="11.29" fill="#ffb367"/><rect x="1092.8" y="916.28" width="37.1" height="11.29" fill="#ffc183"/><rect x="1129.6" y="916.28" width="37.1" height="11.29" fill="#ffce9d"/><rect x="1166.4" y="916.28" width="37.1" height="11.29" fill="#ffd5aa"/><rect x="1203.2" y="916.28" width="37.1" height="11.29" fill="#ffdbb7"/><rect x="1240.0" y="916.28" width="37.1" height="11.29" fill="#ffe1c3"/><rect x="1276.8" y="916.28" width="37.1" height="11.29" fill="#ffe7cf"/><rect x="1313.6" y="916.28" width="37.1" height="11.29" fill="#ffedda"/><rect x="1350.4" y="916.28" width="37.1" height="11.29" fill="#fff2e5"/><rect x="1387.2" y="916.28" width="16.0" height="11.29" fill="#fff7ef"/><rect x="815.6" y="905.29" width="203.9" height="11.29" fill="#ff8000"/><rect x="1019.2" y="905.29" width="37.1" height="11.29" fill="#ffac59"/><rect x="1056.0" y="905.29" width="37.1" height="11.29" fill="#ffc183"/><rect x="1092.8" y="905.29" width="37.1" height="11.29" fill="#ffc890"/><rect x="1129.6" y="905.29" width="37.1" height="11.29" fill="#ffd5aa"/><rect x="1166.4" y="905.29" width="37.1" height="11.29" fill="#ffdbb7"/><rect x="1203.2" y="905.29" width="37.1" height="11.29" fill="#ffe1c3"/><rect x="1240.0" y="905.29" width="37.1" height="11.29" fill="#ffe7cf"/><rect x="1276.8" y="905.29" width="37.1" height="11.29" fill="#ffedda"/><rect x="1313.6" y="905.29" width="37.1" height="11.29" fill="#fff2e5"/><rect x="1350.4" y="905.29" width="37.1" height="11.29" fill="#fff7ef"/><rect x="1387.2" y="905.29" width="16.0" height="11.29" fill="#fffcf8"/><rect x="815.6" y="894.31" width="167.1" height="11.29" fill="#ff8000"/><rect x="982.4" y="894.31" width="37.1" height="11.29" fill="#ff9e3c"/><rect x="1019.2" y="894.31" width="37.1" height="11.29" fill="#ffb367"/><rect x="1056.0" y="894.31" width="37.1" height="11.29" fill="#ffc890"/><rect x="1092.8" y="894.31" width="37.1" height="11.29" fill="#ffce9d"/><rect x="1129.6" y="894.31" width="37.1" height="11.29" fill="#ffdbb7"/><rect x="1166.4" y="894.31" width="37.1" height="11.29" fill="#ffe1c3"/><rect x="1203.2" y="894.31" width="37.1" height="11.29" fill="#ffe7cf"/><rect x="1240.0" y="894.31" width="37.1" height="11.29" fill="#ffedda"/><rect x="1276.8" y="894.31" width="37.1" height="11.29" fill="#fff2e5"/><rect x="1313.6" y="894.31" width="37.1" height="11.29" fill="#fff7ef"/><rect x="1350.4" y="894.31" width="37.1" height="11.29" fill="#fffcf8"/><rect x="815.6" y="883.32" width="167.1" height="11.29" fill="#ff8000"/><rect x="982.4" y="883.32" width="37.1" height="11.29" fill="#ffb367"/><rect x="1019.2" y="883.32" width="37.1" height="11.29" fill="#ffc890"/><rect x="1056.0" y="883.32" width="37.1" height="11.29" fill="#ffce9d"/><rect x="1092.8" y="883.32" width="37.1" height="11.29" fill="#ffd5aa"/><rect x="1129.6" y="883.32" width="37.1" height="11.29" fill="#ffe1c3"/><rect x="1166.4" y="883.32" width="37.1" height="11.29" fill="#ffe7cf"/><rect x="1203.2" y="883.32" width="37.1" height="11.29" fill="#ffedda"/><rect x="1240.0" y="883.32" width="37.1" height="11.29" fill="#fff2e5"/><rect x="1276.8" y="883.32" width="37.1" height="11.29" fill="#fff7ef"/><rect x="1313.6" y="883.32" width="37.1" height="11.29" fill="#fffcf8"/><rect x="815.6" y="872.33" width="167.1" height="11.29" fill="#ff8000"/><rect x="982.4" y="872.33" width="37.1" height="11.29" fill="#ffba75"/><rect x="1019.2" y="872.33" width="37.1" height="11.29" fill="#ffce9d"/><rect x="1056.0" y="872.33" width="73.9" height="11.29" fill="#ffd5aa"/><rect x="1129.6" y="872.33" width="37.1" height="11.29" fill="#ffe1c3"/><rect x="1166.4" y="872.33" width="37.1" height="11.29" fill="#ffedda"/><rect x="1203.2" y="872.33" width="37.1" height="11.29" fill="#fff2e5"/><rect x="1240.0" y="872.33" width="37.1" height="11.29" fill="#fff7ef"/><rect x="1276.8" y="872.33" width="37.1" height="11.29" fill="#fffcf8"/><rect x="815.6" y="861.34" width="167.1" height="11.29" fill="#ff8000"/><rect x="982.4" y="861.34" width="37.1" height="11.29" fill="#ffc183"/><rect x="1019.2" y="861.34" width="37.1" height="11.29" fill="#ffd5aa"/><rect x="1056.0" y="861.34" width="37.1" height="11.29" fill="#ffdbb7"/><rect x="1092.8" y="861.34" width="37.1" height="11.29" fill="#ffe1c3"/><rect x="1129.6" y="861.34" width="37.1" height="11.29" fill="#ffe7cf"/><rect x="1166.4" y="861.34" width="37.1" height="11.29" fill="#ffedda"/><rect x="1203.2" y="861.34" width="37.1" height="11.29" fill="#fff2e5"/><rect x="1240.0" y="861.34" width="37.1" height="11.29" fill="#fff7ef"/><rect x="1276.8" y="861.34" width="37.1" height="11.29" fill="#fffcf8"/><rect x="815.6" y="850.36" width="130.3" height="11.29" fill="#ff8000"/><rect x="945.6" y="850.36" width="37.1" height="11.29" fill="#ffac59"/><rect x="982.4" y="850.36" width="37.1" height="11.29" fill="#ffc890"/><rect x="1019.2" y="850.36" width="37.1" height="11.29" fill="#ffd5aa"/><rect x="1056.0" y="850.36" width="37.1" height="11.29" fill="#ffe1c3"/><rect x="1092.8" y="850.36" width="37.1" height="11.29" fill="#ffe7cf"/><rect x="1129.6" y="850.36" width="37.1" height="11.29" fill="#ffedda"/><rect x="1166.4" y="850.36" width="37.1" height="11.29" fill="#fff2e5"/><rect x="1203.2" y="850.36" width="37.1" height="11.29" fill="#fff7ef"/><rect x="1240.0" y="850.36" width="37.1" height="11.29" fill="#fffcf8"/><rect x="815.6" y="839.37" width="130.3" height="11.29" fill="#ff8000"/><rect x="945.6" y="839.37" width="37.1" height="11.29" fill="#ffac59"/><rect x="982.4" y="839.37" width="37.1" height="11.29" fill="#ffc890"/><rect x="1019.2" y="839.37" width="37.1" height="11.29" fill="#ffdbb7"/><rect x="1056.0" y="839.37" width="37.1" height="11.29" fill="#ffe7cf"/><rect x="1092.8" y="839.37" width="37.1" height="11.29" fill="#ffedda"/><rect x="1129.6" y="839.37" width="37.1" height="11.29" fill="#fff2e5"/><rect x="1166.4" y="839.37" width="37.1" height="11.29" fill="#fff7ef"/><rect x="1203.2" y="839.37" width="37.1" height="11.29" fill="#fffcf8"/><rect x="815.6" y="828.38" width="130.3" height="11.29" fill="#ff8000"/><rect x="945.6" y="828.38" width="37.1" height="11.29" fill="#ffac59"/><rect x="982.4" y="828.38" width="37.1" height="11.29" fill="#ffc890"/><rect x="1019.2" y="828.38" width="37.1" height="11.29" fill="#ffdbb7"/><rect x="1056.0" y="828.38" width="37.1" height="11.29" fill="#ffe7cf"/><rect x="1092.8" y="828.38" width="37.1" height="11.29" fill="#fff2e5"/><rect x="1129.6" y="828.38" width="73.9" height="11.29" fill="#fff7ef"/><rect x="1203.2" y="828.38" width="37.1" height="11.29" fill="#fffcf8"/><rect x="815.6" y="817.39" width="167.1" height="11.29" fill="#ff8000"/><rect x="982.4" y="817.39" width="37.1" height="11.29" fill="#ffba75"/><rect x="1019.2" y="817.39" width="37.1" height="11.29" fill="#ffdbb7"/><rect x="1056.0" y="817.39" width="37.1" height="11.29" fill="#ffe7cf"/><rect x="1092.8" y="817.39" width="37.1" height="11.29" fill="#fff2e5"/><rect x="1129.6" y="817.39" width="37.1" height="11.29" fill="#fff7ef"/><rect x="1166.4" y="817.39" width="37.1" height="11.29" fill="#fffcf8"/><rect x="815.6" y="806.41" width="167.1" height="11.29" fill="#ff8000"/><rect x="982.4" y="806.41" width="37.1" height="11.29" fill="#ffba75"/><rect x="1019.2" y="806.41" width="37.1" height="11.29" fill="#ffdbb7"/><rect x="1056.0" y="806.41" width="37.1" height="11.29" fill="#ffe7cf"/><rect x="1092.8" y="806.41" width="37.1" height="11.29" fill="#fff2e5"/><rect x="1129.6" y="806.41" width="37.1" height="11.29" fill="#fff7ef"/><rect x="1166.4" y="806.41" width="37.1" height="11.29" fill="#fffcf8"/><rect x="815.6" y="795.42" width="167.1" height="11.29" fill="#ff8000"/><rect x="982.4" y="795.42" width="37.1" height="11.29" fill="#ffba75"/><rect x="1019.2" y="795.42" width="37.1" height="11.29" fill="#ffdbb7"/><rect x="1056.0" y="795.42" width="37.1" height="11.29" fill="#ffe7cf"/><rect x="1092.8" y="795.42" width="37.1" height="11.29" fill="#fff2e5"/><rect x="1129.6" y="795.42" width="37.1" height="11.29" fill="#fff7ef"/><rect x="1166.4" y="795.42" width="37.1" height="11.29" fill="#fffcf8"/><rect x="815.6" y="784.43" width="167.1" height="11.29" fill="#ff8000"/><rect x="982.4" y="784.43" width="37.1" height="11.29" fill="#ffba75"/><rect x="1019.2" y="784.43" width="37.1" height="11.29" fill="#ffdbb7"/><rect x="1056.0" y="784.43" width="37.1" height="11.29" fill="#ffe7cf"/><rect x="1092.8" y="784.43" width="37.1" height="11.29" fill="#fff2e5"/><rect x="1129.6" y="784.43" width="37.1" height="11.29" fill="#fff7ef"/><rect x="1166.4" y="784.43" width="37.1" height="11.29" fill="#fffcf8"/><rect x="815.6" y="773.44" width="167.1" height="11.29" fill="#ff8000"/><rect x="982.4" y="773.44" width="37.1" height="11.29" fill="#ffba75"/><rect x="1019.2" y="773.44" width="37.1" height="11.29" fill="#ffdbb7"/><rect x="1056.0" y="773.44" width="37.1" height="11.29" fill="#ffe7cf"/><rect x="1092.8" y="773.44" width="37.1" height="11.29" fill="#fff2e5"/><rect x="1129.6" y="773.44" width="37.1" height="11.29" fill="#fff7ef"/><rect x="1166.4" y="773.44" width="37.1" height="11.29" fill="#fffcf8"/><rect x="815.6" y="762.46" width="167.1" height="11.29" fill="#ff8000"/><rect x="982.4" y="762.46" width="37.1" height="11.29" fill="#ffba75"/><rect x="1019.2" y="762.46" width="37.1" height="11.29" fill="#ffdbb7"/><rect x="1056.0" y="762.46" width="37.1" height="11.29" fill="#ffe7cf"/><rect x="1092.8" y="762.46" width="37.1" height="11.29" fill="#fff2e5"/><rect x="1129.6" y="762.46" width="37.1" height="11.29" fill="#fff7ef"/><rect x="1166.4" y="762.46" width="37.1" height="11.29" fill="#fffcf8"/><rect x="815.6" y="751.47" width="167.1" height="11.29" fill="#ff8000"/><rect x="982.4" y="751.47" width="37.1" height="11.29" fill="#ffba75"/><rect x="1019.2" y="751.47" width="37.1" height="11.29" fill="#ffe1c3"/><rect x="1056.0" y="751.47" width="37.1" height="11.29" fill="#ffe7cf"/><rect x="1092.8" y="751.47" width="37.1" height="11.29" fill="#fff2e5"/><rect x="1129.6" y="751.47" width="37.1" height="11.29" fill="#fff7ef"/><rect x="1166.4" y="751.47" width="37.1" height="11.29" fill="#fffcf8"/><rect x="815.6" y="740.48" width="167.1" height="11.29" fill="#ff8000"/><rect x="982.4" y="740.48" width="37.1" height="11.29" fill="#ffc183"/><rect x="1019.2" y="740.48" width="37.1" height="11.29" fill="#ffe1c3"/><rect x="1056.0" y="740.48" width="37.1" height="11.29" fill="#ffe7cf"/><rect x="1092.8" y="740.48" width="37.1" height="11.29" fill="#fff2e5"/><rect x="1129.6" y="740.48" width="37.1" height="11.29" fill="#fff7ef"/><rect x="1166.4" y="740.48" width="37.1" height="11.29" fill="#fffcf8"/><rect x="815.6" y="729.49" width="167.1" height="11.29" fill="#ff8000"/><rect x="982.4" y="729.49" width="37.1" height="11.29" fill="#ffc890"/><rect x="1019.2" y="729.49" width="37.1" height="11.29" fill="#ffe1c3"/><rect x="1056.0" y="729.49" width="37.1" height="11.29" fill="#ffedda"/><rect x="1092.8" y="729.49" width="37.1" height="11.29" fill="#fff2e5"/><rect x="1129.6" y="729.49" width="37.1" height="11.29" fill="#fff7ef"/><rect x="1166.4" y="729.49" width="37.1" height="11.29" fill="#fffcf8"/><rect x="815.6" y="718.51" width="130.3" height="11.29" fill="#ff8000"/><rect x="945.6" y="718.51" width="37.1" height="11.29" fill="#ff880f"/><rect x="982.4" y="718.51" width="37.1" height="11.29" fill="#ffd5aa"/><rect x="1019.2" y="718.51" width="37.1" height="11.29" fill="#ffe1c3"/><rect x="1056.0" y="718.51" width="37.1" height="11.29" fill="#ffedda"/><rect x="1092.8" y="718.51" width="37.1" height="11.29" fill="#fff2e5"/><rect x="1129.6" y="718.51" width="37.1" height="11.29" fill="#fff7ef"/><rect x="1166.4" y="718.51" width="37.1" height="11.29" fill="#fffcf8"/><rect x="815.6" y="707.52" width="130.3" height="11.29" fill="#ff8000"/><rect x="945.6" y="707.52" width="37.1" height="11.29" fill="#ff9e3c"/><rect x="982.4" y="707.52" width="37.1" height="11.29" fill="#ffdbb7"/><rect x="1019.2" y="707.52" width="37.1" height="11.29" fill="#ffe7cf"/><rect x="1056.0" y="707.52" width="37.1" height="11.29" fill="#ffedda"/><rect x="1092.8" y="707.52" width="37.1" height="11.29" fill="#fff2e5"/><rect x="1129.6" y="707.52" width="37.1" height="11.29" fill="#fff7ef"/><rect x="1166.4" y="707.52" width="37.1" height="11.29" fill="#fffcf8"/><rect x="815.6" y="696.53" width="130.3" height="11.29" fill="#ff8000"/><rect x="945.6" y="696.53" width="37.1" height="11.29" fill="#ffac59"/><rect x="982.4" y="696.53" width="37.1" height="11.29" fill="#ffdbb7"/><rect x="1019.2" y="696.53" width="37.1" height="11.29" fill="#ffe7cf"/><rect x="1056.0" y="696.53" width="37.1" height="11.29" fill="#ffedda"/><rect x="1092.8" y="696.53" width="37.1" height="11.29" fill="#fff2e5"/><rect x="1129.6" y="696.53" width="37.1" height="11.29" fill="#fff7ef"/><rect x="1166.4" y="696.53" width="37.1" height="11.29" fill="#fffcf8"/><rect x="815.6" y="685.54" width="130.3" height="11.29" fill="#ff8000"/><rect x="945.6" y="685.54" width="37.1" height="11.29" fill="#ffba75"/><rect x="982.4" y="685.54" width="37.1" height="11.29" fill="#ffdbb7"/><rect x="1019.2" y="685.54" width="37.1" height="11.29" fill="#ffe7cf"/><rect x="1056.0" y="685.54" width="37.1" height="11.29" fill="#ffedda"/><rect x="1092.8" y="685.54" width="37.1" height="11.29" fill="#fff2e5"/><rect x="1129.6" y="685.54" width="37.1" height="11.29" fill="#fff7ef"/><rect x="1166.4" y="685.54" width="37.1" height="11.29" fill="#fffcf8"/><rect x="815.6" y="674.56" width="130.3" height="11.29" fill="#ff8000"/><rect x="945.6" y="674.56" width="37.1" height="11.29" fill="#ffc890"/><rect x="982.4" y="674.56" width="37.1" height="11.29" fill="#ffdbb7"/><rect x="1019.2" y="674.56" width="37.1" height="11.29" fill="#ffe7cf"/><rect x="1056.0" y="674.56" width="37.1" height="11.29" fill="#ffedda"/><rect x="1092.8" y="674.56" width="37.1" height="11.29" fill="#fff2e5"/><rect x="1129.6" y="674.56" width="37.1" height="11.29" fill="#fff7ef"/><rect x="1166.4" y="674.56" width="37.1" height="11.29" fill="#fffcf8"/><rect x="815.6" y="663.57" width="130.3" height="11.29" fill="#ff8000"/><rect x="945.6" y="663.57" width="37.1" height="11.29" fill="#ffce9d"/><rect x="982.4" y="663.57" width="37.1" height="11.29" fill="#ffdbb7"/><rect x="1019.2" y="663.57" width="37.1" height="11.29" fill="#ffe7cf"/><rect x="1056.0" y="663.57" width="37.1" height="11.29" fill="#ffedda"/><rect x="1092.8" y="663.57" width="37.1" height="11.29" fill="#fff2e5"/><rect x="1129.6" y="663.57" width="37.1" height="11.29" fill="#fff7ef"/><rect x="1166.4" y="663.57" width="37.1" height="11.29" fill="#fffcf8"/><rect x="815.6" y="652.58" width="130.3" height="11.29" fill="#ff8000"/><rect x="945.6" y="652.58" width="37.1" height="11.29" fill="#ffd5aa"/><rect x="982.4" y="652.58" width="37.1" height="11.29" fill="#ffdbb7"/><rect x="1019.2" y="652.58" width="37.1" height="11.29" fill="#ffe7cf"/><rect x="1056.0" y="652.58" width="37.1" height="11.29" fill="#ffedda"/><rect x="1092.8" y="652.58" width="37.1" height="11.29" fill="#fff2e5"/><rect x="1129.6" y="652.58" width="37.1" height="11.29" fill="#fff7ef"/><rect x="1166.4" y="652.58" width="73.9" height="11.29" fill="#fffcf8"/><rect x="815.6" y="641.59" width="130.3" height="11.29" fill="#ff8000"/><rect x="945.6" y="641.59" width="73.9" height="11.29" fill="#ffdbb7"/><rect x="1019.2" y="641.59" width="37.1" height="11.29" fill="#ffe7cf"/><rect x="1056.0" y="641.59" width="37.1" height="11.29" fill="#ffedda"/><rect x="1092.8" y="641.59" width="37.1" height="11.29" fill="#fff2e5"/><rect x="1129.6" y="641.59" width="37.1" height="11.29" fill="#fff7ef"/><rect x="1166.4" y="641.59" width="110.7" height="11.29" fill="#fffcf8"/><rect x="815.6" y="636.10" width="130.3" height="5.79" fill="#ff8000"/><rect x="945.6" y="636.10" width="73.9" height="5.79" fill="#ffdbb7"/><rect x="1019.2" y="636.10" width="37.1" height="5.79" fill="#ffe7cf"/><rect x="1056.0" y="636.10" width="37.1" height="5.79" fill="#ffedda"/><rect x="1092.8" y="636.10" width="37.1" height="5.79" fill="#fff2e5"/><rect x="1129.6" y="636.10" width="37.1" height="5.79" fill="#fff7ef"/><rect x="1166.4" y="636.10" width="110.7" height="5.79" fill="#fffcf8"/></g><g stroke="#000"><line x1="815.60" y1="1075.6" x2="815.60" y2="1066.6" stroke-width="2"/><line x1="815.60" y1="636.1" x2="815.60" y2="645.1" stroke-width="2"/><line x1="844.97" y1="1075.6" x2="844.97" y2="1072.3999999999999" stroke-width="2"/><line x1="844.97" y1="636.1" x2="844.97" y2="639.3000000000001" stroke-width="2"/><line x1="874.33" y1="1075.6" x2="874.33" y2="1072.3999999999999" stroke-width="2"/><line x1="874.33" y1="636.1" x2="874.33" y2="639.3000000000001" stroke-width="2"/><line x1="903.70" y1="1075.6" x2="903.70" y2="1072.3999999999999" stroke-width="2"/><line x1="903.70" y1="636.1" x2="903.70" y2="639.3000000000001" stroke-width="2"/><line x1="933.06" y1="1075.6" x2="933.06" y2="1072.3999999999999" stroke-width="2"/><line x1="933.06" y1="636.1" x2="933.06" y2="639.3000000000001" stroke-width="2"/><line x1="962.42" y1="1075.6" x2="962.42" y2="1066.6" stroke-width="2"/><line x1="962.42" y1="636.1" x2="962.42" y2="645.1" stroke-width="2"/><line x1="991.79" y1="1075.6" x2="991.79" y2="1072.3999999999999" stroke-width="2"/><line x1="991.79" y1="636.1" x2="991.79" y2="639.3000000000001" stroke-width="2"/><line x1="1021.15" y1="1075.6" x2="1021.15" y2="1072.3999999999999" stroke-width="2"/><line x1="1021.15" y1="636.1" x2="1021.15" y2="639.3000000000001" stroke-width="2"/><line x1="1050.52" y1="1075.6" x2="1050.52" y2="1072.3999999999999" stroke-width="2"/><line x1="1050.52" y1="636.1" x2="1050.52" y2="639.3000000000001" stroke-width="2"/><line x1="1079.88" y1="1075.6" x2="1079.88" y2="1072.3999999999999" stroke-width="2"/><line x1="1079.88" y1="636.1" x2="1079.88" y2="639.3000000000001" stroke-width="2"/><line x1="1109.25" y1="1075.6" x2="1109.25" y2="1066.6" stroke-width="2"/><line x1="1109.25" y1="636.1" x2="1109.25" y2="645.1" stroke-width="2"/><line x1="1138.62" y1="1075.6" x2="1138.62" y2="1072.3999999999999" stroke-width="2"/><line x1="1138.62" y1="636.1" x2="1138.62" y2="639.3000000000001" stroke-width="2"/><line x1="1167.98" y1="1075.6" x2="1167.98" y2="1072.3999999999999" stroke-width="2"/><line x1="1167.98" y1="636.1" x2="1167.98" y2="639.3000000000001" stroke-width="2"/><line x1="1197.35" y1="1075.6" x2="1197.35" y2="1072.3999999999999" stroke-width="2"/><line x1="1197.35" y1="636.1" x2="1197.35" y2="639.3000000000001" stroke-width="2"/><line x1="1226.71" y1="1075.6" x2="1226.71" y2="1072.3999999999999" stroke-width="2"/><line x1="1226.71" y1="636.1" x2="1226.71" y2="639.3000000000001" stroke-width="2"/><line x1="1256.08" y1="1075.6" x2="1256.08" y2="1066.6" stroke-width="2"/><line x1="1256.08" y1="636.1" x2="1256.08" y2="645.1" stroke-width="2"/><line x1="1285.44" y1="1075.6" x2="1285.44" y2="1072.3999999999999" stroke-width="2"/><line x1="1285.44" y1="636.1" x2="1285.44" y2="639.3000000000001" stroke-width="2"/><line x1="1314.80" y1="1075.6" x2="1314.80" y2="1072.3999999999999" stroke-width="2"/><line x1="1314.80" y1="636.1" x2="1314.80" y2="639.3000000000001" stroke-width="2"/><line x1="1344.17" y1="1075.6" x2="1344.17" y2="1072.3999999999999" stroke-width="2"/><line x1="1344.17" y1="636.1" x2="1344.17" y2="639.3000000000001" stroke-width="2"/><line x1="1373.53" y1="1075.6" x2="1373.53" y2="1072.3999999999999" stroke-width="2"/><line x1="1373.53" y1="636.1" x2="1373.53" y2="639.3000000000001" stroke-width="2"/><line x1="1402.90" y1="1075.6" x2="1402.90" y2="1066.6" stroke-width="2"/><line x1="1402.90" y1="636.1" x2="1402.90" y2="645.1" stroke-width="2"/><line x1="815.6" y1="1075.60" x2="824.6" y2="1075.60" stroke-width="2"/><line x1="1402.9" y1="1075.60" x2="1393.9" y2="1075.60" stroke-width="2"/><line x1="815.6" y1="1053.62" x2="818.8000000000001" y2="1053.62" stroke-width="2"/><line x1="1402.9" y1="1053.62" x2="1399.7" y2="1053.62" stroke-width="2"/><line x1="815.6" y1="1031.65" x2="818.8000000000001" y2="1031.65" stroke-width="2"/><line x1="1402.9" y1="1031.65" x2="1399.7" y2="1031.65" stroke-width="2"/><line x1="815.6" y1="1009.67" x2="818.8000000000001" y2="1009.67" stroke-width="2"/><line x1="1402.9" y1="1009.67" x2="1399.7" y2="1009.67" stroke-width="2"/><line x1="815.6" y1="987.70" x2="818.8000000000001" y2="987.70" stroke-width="2"/><line x1="1402.9" y1="987.70" x2="1399.7" y2="987.70" stroke-width="2"/><line x1="815.6" y1="965.72" x2="824.6" y2="965.72" stroke-width="2"/><line x1="1402.9" y1="965.72" x2="1393.9" y2="965.72" stroke-width="2"/><line x1="815.6" y1="943.75" x2="818.8000000000001" y2="943.75" stroke-width="2"/><line x1="1402.9" y1="943.75" x2="1399.7" y2="943.75" stroke-width="2"/><line x1="815.6" y1="921.77" x2="818.8000000000001" y2="921.77" stroke-width="2"/><line x1="1402.9" y1="921.77" x2="1399.7" y2="921.77" stroke-width="2"/><line x1="815.6" y1="899.80" x2="818.8000000000001" y2="899.80" stroke-width="2"/><line x1="1402.9" y1="899.80" x2="1399.7" y2="899.80" stroke-width="2"/><line x1="815.6" y1="877.82" x2="818.8000000000001" y2="877.82" stroke-width="2"/><line x1="1402.9" y1="877.82" x2="1399.7" y2="877.82" stroke-width="2"/><line x1="815.6" y1="855.85" x2="824.6" y2="855.85" stroke-width="2"/><line x1="1402.9" y1="855.85" x2="1393.9" y2="855.85" stroke-width="2"/><line x1="815.6" y1="833.87" x2="818.8000000000001" y2="833.87" stroke-width="2"/><line x1="1402.9" y1="833.87" x2="1399.7" y2="833.87" stroke-width="2"/><line x1="815.6" y1="811.90" x2="818.8000000000001" y2="811.90" stroke-width="2"/><line x1="1402.9" y1="811.90" x2="1399.7" y2="811.90" stroke-width="2"/><line x1="815.6" y1="789.92" x2="818.8000000000001" y2="789.92" stroke-width="2"/><line x1="1402.9" y1="789.92" x2="1399.7" y2="789.92" stroke-width="2"/><line x1="815.6" y1="767.95" x2="818.8000000000001" y2="767.95" stroke-width="2"/><line x1="1402.9" y1="767.95" x2="1399.7" y2="767.95" stroke-width="2"/><line x1="815.6" y1="745.97" x2="824.6" y2="745.97" stroke-width="2"/><line x1="1402.9" y1="745.97" x2="1393.9" y2="745.97" stroke-width="2"/><line x1="815.6" y1="724.00" x2="818.8000000000001" y2="724.00" stroke-width="2"/><line x1="1402.9" y1="724.00" x2="1399.7" y2="724.00" stroke-width="2"/><line x1="815.6" y1="702.02" x2="818.8000000000001" y2="702.02" stroke-width="2"/><line x1="1402.9" y1="702.02" x2="1399.7" y2="702.02" stroke-width="2"/><line x1="815.6" y1="680.05" x2="818.8000000000001" y2="680.05" stroke-width="2"/><line x1="1402.9" y1="680.05" x2="1399.7" y2="680.05" stroke-width="2"/><line x1="815.6" y1="658.07" x2="818.8000000000001" y2="658.07" stroke-width="2"/><line x1="1402.9" y1="658.07" x2="1399.7" y2="658.07" stroke-width="2"/><line x1="815.6" y1="636.10" x2="824.6" y2="636.10" stroke-width="2"/><line x1="1402.9" y1="636.10" x2="1393.9" y2="636.10" stroke-width="2"/></g><rect x="815.6" y="636.1" width="587.3" height="439.5" fill="none" stroke="#000" stroke-width="2.2"/><text x="815.60" y="1114.6" font-size="31" text-anchor="middle">0</text><text x="962.42" y="1114.6" font-size="31" text-anchor="middle">0.02</text><text x="1109.25" y="1114.6" font-size="31" text-anchor="middle">0.04</text><text x="1256.08" y="1114.6" font-size="31" text-anchor="middle">0.06</text><text x="1402.90" y="1114.6" font-size="31" text-anchor="middle">0.08</text><text x="804.6" y="1086.10" font-size="31" text-anchor="end">0</text><text x="804.6" y="976.22" font-size="31" text-anchor="end">0.5</text><text x="804.6" y="866.35" font-size="31" text-anchor="end">1</text><text x="804.6" y="756.47" font-size="31" text-anchor="end">1.5</text><text x="804.6" y="646.60" font-size="31" text-anchor="end">2</text><text x="1119.25" y="1165.1999999999998" font-size="42.5" text-anchor="middle">t/U</text><text transform="translate(748.6,854.8499999999999) rotate(-90)" font-size="41" text-anchor="middle">μ/U</text><text x="1109.25" y="619.2" font-size="32" text-anchor="middle">T=0.2</text><text x="1381.4" y="706.6" font-size="50.5" text-anchor="end">(d)</text><polygon points="371.50,377.20 375.54,389.64 388.62,389.64 378.04,397.32 382.08,409.76 371.50,402.08 360.92,409.76 364.96,397.32 354.38,389.64 367.46,389.64" fill="#0000ff"/><defs><linearGradient id="cg" x1="0" y1="1" x2="0" y2="0"><stop offset="0" stop-color="#ff8000"/><stop offset="1" stop-color="#ffffff"/></linearGradient></defs><rect x="1465.5" y="263.2" width="39.2" height="547.7" fill="url(#cg)" stroke="#000" stroke-width="2.2"/><line x1="1504.7" y1="806.80" x2="1515.7" y2="806.80" stroke="#000" stroke-width="2"/><text x="1519" y="818.30" font-size="35">−0.0</text><line x1="1504.7" y1="738.80" x2="1515.7" y2="738.80" stroke="#000" stroke-width="2"/><text x="1524.5" y="750.30" font-size="35">0.1</text><line x1="1504.7" y1="670.80" x2="1515.7" y2="670.80" stroke="#000" stroke-width="2"/><text x="1524.5" y="682.30" font-size="35">0.3</text><line x1="1504.7" y1="602.80" x2="1515.7" y2="602.80" stroke="#000" stroke-width="2"/><text x="1524.5" y="614.30" font-size="35">0.4</text><line x1="1504.7" y1="534.80" x2="1515.7" y2="534.80" stroke="#000" stroke-width="2"/><text x="1524.5" y="546.30" font-size="35">0.5</text><line x1="1504.7" y1="466.80" x2="1515.7" y2="466.80" stroke="#000" stroke-width="2"/><text x="1524.5" y="478.30" font-size="35">0.7</text><line x1="1504.7" y1="398.80" x2="1515.7" y2="398.80" stroke="#000" stroke-width="2"/><text x="1524.5" y="410.30" font-size="35">0.8</text><line x1="1504.7" y1="330.80" x2="1515.7" y2="330.80" stroke="#000" stroke-width="2"/><text x="1524.5" y="342.30" font-size="35">1.0</text><line x1="1504.7" y1="262.80" x2="1515.7" y2="262.80" stroke="#000" stroke-width="2"/><text x="1524.5" y="274.30" font-size="35">1.1</text></svg>
</body></html>
